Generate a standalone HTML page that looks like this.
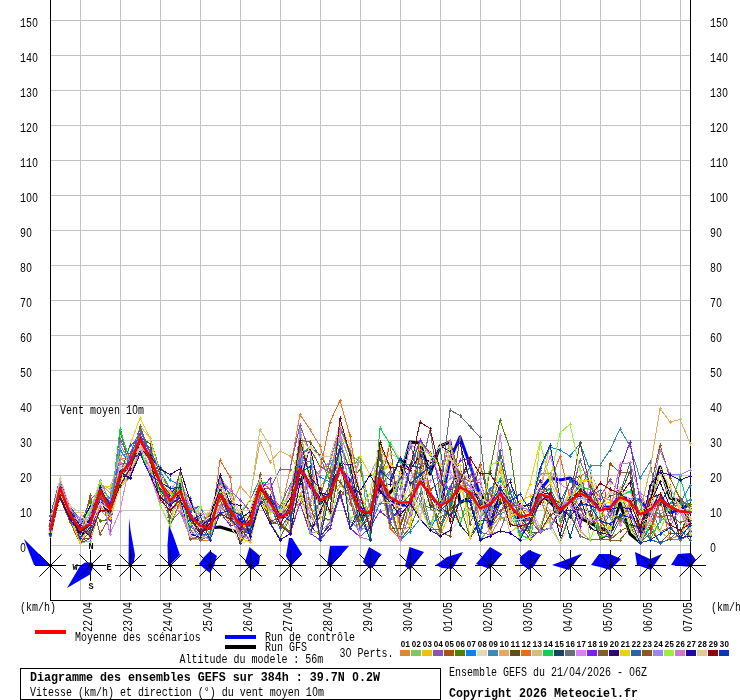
<!DOCTYPE html>
<html><head><meta charset="utf-8"><title>GEFS</title>
<style>html,body{margin:0;padding:0;background:#fff}svg{display:block;will-change:transform}text{font-family:"Liberation Mono",monospace}</style></head>
<body>
<svg width="740" height="700" viewBox="0 0 740 700" font-family="'Liberation Mono', monospace">
<rect width="740" height="700" fill="#fff"/>
<path d="M50 20.5H690M50 55.5H690M50 90.5H690M50 125.5H690M50 160.5H690M50 195.5H690M50 230.5H690M50 265.5H690M50 300.5H690M50 335.5H690M50 370.5H690M50 405.5H690M50 440.5H690M50 475.5H690M50 510.5H690M50 545.5H690M80.5 0V600M120.5 0V600M160.5 0V600M200.5 0V600M240.5 0V600M280.5 0V600M320.5 0V600M360.5 0V600M400.5 0V600M440.5 0V600M480.5 0V600M520.5 0V600M560.5 0V600M600.5 0V600M640.5 0V600M680.5 0V600" stroke="#c3c3c3" stroke-width="1" fill="none" shape-rendering="crispEdges"/>
<path d="M50.5 0V600.5M690.5 0V600.5M50 600.5H691" stroke="#000" stroke-width="1" fill="none" shape-rendering="crispEdges"/>
<g fill="none" stroke-linejoin="round">
<path d="M50 534.8L60 489.1L70 514.4L80 535.7L90 528.9L100 495.1L110 514.6L120 474.8L130 465.1L140 444.7L150 458.3L160 484.0L170 503.6L180 494.1L190 517.4L200 530.6L210 528.0L220 527.0L230 530.0L240 533.0L250 528.2L260 484.1L270 501.0L280 517.9L290 514.9L300 474.8L310 482.3L320 503.4L330 494.4L340 467.3L350 487.7L360 514.8L370 515.6L380 484.0L390 493.0L400 479.0L410 442.0L420 443.0L430 474.0L440 446.0L450 442.0L460 503.0L470 497.0L480 493.0L490 510.0L500 501.2L510 507.8L520 519.9L530 518.8L540 493.9L550 501.7L560 513.1L570 499.5L580 518.0L590 523.0L600 528.0L610 532.0L620 503.0L630 534.0L640 542.0L650 503.0L660 467.0L670 498.0L680 501.0L690 522.0" stroke="#000" stroke-width="3"/>
<path d="M50 527.1L60 487.6L70 509.0L80 529.8L90 520.6L100 491.3L110 504.5L120 475.1L130 462.7L140 439.6L150 457.8L160 482.8L170 496.5L180 483.3L190 516.3L200 522.8L210 527.4L220 495.5L230 504.7L240 521.7L250 522.2L260 482.4L270 503.9L280 517.4L290 509.0L300 465.3L310 486.4L320 498.5L330 496.8L340 468.8L350 480.8L360 507.4L370 513.0L380 479.5L390 499.7L400 505.3L410 505.1L420 480.5L430 493.6L440 508.3L450 460.0L460 437.0L470 465.0L480 495.0L490 528.0L500 500.0L510 510.0L520 516.0L530 520.0L540 490.0L550 478.0L560 480.0L570 478.0L580 486.0L590 500.0L600 507.1L610 507.2L620 496.2L630 500.0L640 500.0L650 513.1L660 494.7L670 512.7L680 509.9L690 504.0" stroke="#0000ff" stroke-width="3"/>
<path d="M50 531.5L60 490.9L70 519.9L80 536.0L90 514.9L100 484.2L110 492.6L120 459.4L130 456.5L140 436.1L150 473.8L160 481.1L170 494.8L180 486.2L190 536.2L200 540.0L210 540.0L220 512.4L230 513.6L240 526.5L250 519.3L260 490.8L270 502.0L280 514.9L290 470.0L300 414.5L310 429.5L320 446.0L330 480.0L340 480.5L350 504.2L360 517.7L370 505.3L380 446.0L390 468.0L400 528.8L410 527.6L420 466.2L430 505.3L440 505.7L450 488.4L460 519.0L470 508.7L480 491.3L490 536.0L500 518.6L510 515.6L520 533.1L530 514.7L540 496.1L550 527.1L560 509.4L570 495.4L580 476.4L590 470.2L600 495.4L610 500.2L620 525.0L630 500.7L640 524.6L650 523.8L660 543.0L670 539.0L680 535.4L690 506.6M48.5 531.5h3M50 529.5v4M58.5 490.9h3M60 488.9v4M68.5 519.9h3M70 517.9v4M78.5 536.0h3M80 534.0v4M88.5 514.9h3M90 512.9v4M98.5 484.2h3M100 482.2v4M108.5 492.6h3M110 490.6v4M118.5 459.4h3M120 457.4v4M128.5 456.5h3M130 454.5v4M138.5 436.1h3M140 434.1v4M148.5 473.8h3M150 471.8v4M158.5 481.1h3M160 479.1v4M168.5 494.8h3M170 492.8v4M178.5 486.2h3M180 484.2v4M188.5 536.2h3M190 534.2v4M198.5 540.0h3M200 538.0v4M208.5 540.0h3M210 538.0v4M218.5 512.4h3M220 510.4v4M228.5 513.6h3M230 511.6v4M238.5 526.5h3M240 524.5v4M248.5 519.3h3M250 517.3v4M258.5 490.8h3M260 488.8v4M268.5 502.0h3M270 500.0v4M278.5 514.9h3M280 512.9v4M288.5 470.0h3M290 468.0v4M298.5 414.5h3M300 412.5v4M308.5 429.5h3M310 427.5v4M318.5 446.0h3M320 444.0v4M328.5 480.0h3M330 478.0v4M338.5 480.5h3M340 478.5v4M348.5 504.2h3M350 502.2v4M358.5 517.7h3M360 515.7v4M368.5 505.3h3M370 503.3v4M378.5 446.0h3M380 444.0v4M388.5 468.0h3M390 466.0v4M398.5 528.8h3M400 526.8v4M408.5 527.6h3M410 525.6v4M418.5 466.2h3M420 464.2v4M428.5 505.3h3M430 503.3v4M438.5 505.7h3M440 503.7v4M448.5 488.4h3M450 486.4v4M458.5 519.0h3M460 517.0v4M468.5 508.7h3M470 506.7v4M478.5 491.3h3M480 489.3v4M488.5 536.0h3M490 534.0v4M498.5 518.6h3M500 516.6v4M508.5 515.6h3M510 513.6v4M518.5 533.1h3M520 531.1v4M528.5 514.7h3M530 512.7v4M538.5 496.1h3M540 494.1v4M548.5 527.1h3M550 525.1v4M558.5 509.4h3M560 507.4v4M568.5 495.4h3M570 493.4v4M578.5 476.4h3M580 474.4v4M588.5 470.2h3M590 468.2v4M598.5 495.4h3M600 493.4v4M608.5 500.2h3M610 498.2v4M618.5 525.0h3M620 523.0v4M628.5 500.7h3M630 498.7v4M638.5 524.6h3M640 522.6v4M648.5 523.8h3M650 521.8v4M658.5 543.0h3M660 541.0v4M668.5 539.0h3M670 537.0v4M678.5 535.4h3M680 533.4v4M688.5 506.6h3M690 504.6v4" stroke="#E8813A" stroke-width="1" shape-rendering="crispEdges"/>
<path d="M50 533.3L60 483.9L70 511.3L80 543.0L90 541.0L100 510.0L110 520.0L120 487.0L130 466.0L140 434.8L150 456.3L160 482.0L170 498.9L180 481.4L190 506.7L200 519.1L210 523.8L220 515.0L230 508.0L240 514.3L250 516.8L260 503.0L270 523.0L280 521.2L290 534.0L300 428.0L310 482.6L320 539.7L330 482.9L340 433.0L350 462.0L360 511.2L370 506.7L380 478.4L390 473.6L400 515.9L410 525.4L420 475.0L430 496.3L440 529.1L450 496.8L460 471.6L470 497.2L480 540.0L490 528.5L500 516.8L510 523.1L520 512.3L530 530.2L540 489.4L550 522.9L560 543.0L570 511.4L580 486.6L590 489.7L600 507.2L610 507.3L620 499.8L630 499.6L640 520.5L650 512.9L660 497.6L670 510.3L680 509.2L690 509.0M48.5 533.3h3M50 531.3v4M58.5 483.9h3M60 481.9v4M68.5 511.3h3M70 509.3v4M78.5 543.0h3M80 541.0v4M88.5 541.0h3M90 539.0v4M98.5 510.0h3M100 508.0v4M108.5 520.0h3M110 518.0v4M118.5 487.0h3M120 485.0v4M128.5 466.0h3M130 464.0v4M138.5 434.8h3M140 432.8v4M148.5 456.3h3M150 454.3v4M158.5 482.0h3M160 480.0v4M168.5 498.9h3M170 496.9v4M178.5 481.4h3M180 479.4v4M188.5 506.7h3M190 504.7v4M198.5 519.1h3M200 517.1v4M208.5 523.8h3M210 521.8v4M218.5 515.0h3M220 513.0v4M228.5 508.0h3M230 506.0v4M238.5 514.3h3M240 512.3v4M248.5 516.8h3M250 514.8v4M258.5 503.0h3M260 501.0v4M268.5 523.0h3M270 521.0v4M278.5 521.2h3M280 519.2v4M288.5 534.0h3M290 532.0v4M298.5 428.0h3M300 426.0v4M308.5 482.6h3M310 480.6v4M318.5 539.7h3M320 537.7v4M328.5 482.9h3M330 480.9v4M338.5 433.0h3M340 431.0v4M348.5 462.0h3M350 460.0v4M358.5 511.2h3M360 509.2v4M368.5 506.7h3M370 504.7v4M378.5 478.4h3M380 476.4v4M388.5 473.6h3M390 471.6v4M398.5 515.9h3M400 513.9v4M408.5 525.4h3M410 523.4v4M418.5 475.0h3M420 473.0v4M428.5 496.3h3M430 494.3v4M438.5 529.1h3M440 527.1v4M448.5 496.8h3M450 494.8v4M458.5 471.6h3M460 469.6v4M468.5 497.2h3M470 495.2v4M478.5 540.0h3M480 538.0v4M488.5 528.5h3M490 526.5v4M498.5 516.8h3M500 514.8v4M508.5 523.1h3M510 521.1v4M518.5 512.3h3M520 510.3v4M528.5 530.2h3M530 528.2v4M538.5 489.4h3M540 487.4v4M548.5 522.9h3M550 520.9v4M558.5 543.0h3M560 541.0v4M568.5 511.4h3M570 509.4v4M578.5 486.6h3M580 484.6v4M588.5 489.7h3M590 487.7v4M598.5 507.2h3M600 505.2v4M608.5 507.3h3M610 505.3v4M618.5 499.8h3M620 497.8v4M628.5 499.6h3M630 497.6v4M638.5 520.5h3M640 518.5v4M648.5 512.9h3M650 510.9v4M658.5 497.6h3M660 495.6v4M668.5 510.3h3M670 508.3v4M678.5 509.2h3M680 507.2v4M688.5 509.0h3M690 507.0v4" stroke="#82C46C" stroke-width="1" shape-rendering="crispEdges"/>
<path d="M50 530.2L60 490.5L70 515.1L80 522.7L90 524.2L100 487.8L110 486.0L120 487.0L130 478.0L140 445.6L150 457.5L160 480.8L170 506.5L180 488.2L190 512.1L200 528.9L210 511.0L220 480.9L230 510.7L240 525.6L250 527.7L260 488.3L270 523.0L280 540.0L290 509.8L300 493.6L310 503.3L320 487.0L330 472.8L340 428.0L350 455.0L360 523.8L370 525.6L380 474.2L390 464.5L400 540.0L410 500.5L420 516.5L430 494.4L440 535.5L450 513.1L460 477.4L470 491.4L480 506.3L490 494.0L500 489.7L510 504.8L520 500.8L530 496.0L540 490.7L550 445.0L560 509.4L570 492.3L580 492.9L590 497.4L600 503.8L610 502.6L620 491.4L630 521.7L640 543.0L650 516.9L660 531.8L670 539.0L680 540.0L690 511.2M48.5 530.2h3M50 528.2v4M58.5 490.5h3M60 488.5v4M68.5 515.1h3M70 513.1v4M78.5 522.7h3M80 520.7v4M88.5 524.2h3M90 522.2v4M98.5 487.8h3M100 485.8v4M108.5 486.0h3M110 484.0v4M118.5 487.0h3M120 485.0v4M128.5 478.0h3M130 476.0v4M138.5 445.6h3M140 443.6v4M148.5 457.5h3M150 455.5v4M158.5 480.8h3M160 478.8v4M168.5 506.5h3M170 504.5v4M178.5 488.2h3M180 486.2v4M188.5 512.1h3M190 510.1v4M198.5 528.9h3M200 526.9v4M208.5 511.0h3M210 509.0v4M218.5 480.9h3M220 478.9v4M228.5 510.7h3M230 508.7v4M238.5 525.6h3M240 523.6v4M248.5 527.7h3M250 525.7v4M258.5 488.3h3M260 486.3v4M268.5 523.0h3M270 521.0v4M278.5 540.0h3M280 538.0v4M288.5 509.8h3M290 507.8v4M298.5 493.6h3M300 491.6v4M308.5 503.3h3M310 501.3v4M318.5 487.0h3M320 485.0v4M328.5 472.8h3M330 470.8v4M338.5 428.0h3M340 426.0v4M348.5 455.0h3M350 453.0v4M358.5 523.8h3M360 521.8v4M368.5 525.6h3M370 523.6v4M378.5 474.2h3M380 472.2v4M388.5 464.5h3M390 462.5v4M398.5 540.0h3M400 538.0v4M408.5 500.5h3M410 498.5v4M418.5 516.5h3M420 514.5v4M428.5 494.4h3M430 492.4v4M438.5 535.5h3M440 533.5v4M448.5 513.1h3M450 511.1v4M458.5 477.4h3M460 475.4v4M468.5 491.4h3M470 489.4v4M478.5 506.3h3M480 504.3v4M488.5 494.0h3M490 492.0v4M498.5 489.7h3M500 487.7v4M508.5 504.8h3M510 502.8v4M518.5 500.8h3M520 498.8v4M528.5 496.0h3M530 494.0v4M538.5 490.7h3M540 488.7v4M548.5 445.0h3M550 443.0v4M558.5 509.4h3M560 507.4v4M568.5 492.3h3M570 490.3v4M578.5 492.9h3M580 490.9v4M588.5 497.4h3M590 495.4v4M598.5 503.8h3M600 501.8v4M608.5 502.6h3M610 500.6v4M618.5 491.4h3M620 489.4v4M628.5 521.7h3M630 519.7v4M638.5 543.0h3M640 541.0v4M648.5 516.9h3M650 514.9v4M658.5 531.8h3M660 529.8v4M668.5 539.0h3M670 537.0v4M678.5 540.0h3M680 538.0v4M688.5 511.2h3M690 509.2v4" stroke="#F0C010" stroke-width="1" shape-rendering="crispEdges"/>
<path d="M50 532.3L60 488.7L70 519.5L80 526.4L90 500.0L100 489.8L110 534.0L120 440.0L130 456.3L140 453.5L150 449.5L160 479.5L170 505.5L180 488.7L190 509.6L200 506.0L210 529.1L220 481.9L230 490.0L240 500.0L250 510.7L260 487.2L270 489.2L280 469.0L290 469.0L300 425.0L310 452.0L320 540.0L330 520.8L340 497.0L350 488.4L360 500.5L370 518.4L380 479.3L390 471.7L400 489.5L410 446.6L420 464.4L430 460.8L440 446.0L450 441.0L460 480.7L470 475.9L480 532.2L490 534.7L500 531.0L510 505.0L520 533.1L530 520.7L540 500.3L550 497.5L560 520.3L570 501.5L580 460.1L590 487.5L600 497.7L610 479.7L620 493.3L630 516.0L640 529.4L650 501.3L660 531.8L670 527.5L680 506.8L690 499.1M48.5 532.3h3M50 530.3v4M58.5 488.7h3M60 486.7v4M68.5 519.5h3M70 517.5v4M78.5 526.4h3M80 524.4v4M88.5 500.0h3M90 498.0v4M98.5 489.8h3M100 487.8v4M108.5 534.0h3M110 532.0v4M118.5 440.0h3M120 438.0v4M128.5 456.3h3M130 454.3v4M138.5 453.5h3M140 451.5v4M148.5 449.5h3M150 447.5v4M158.5 479.5h3M160 477.5v4M168.5 505.5h3M170 503.5v4M178.5 488.7h3M180 486.7v4M188.5 509.6h3M190 507.6v4M198.5 506.0h3M200 504.0v4M208.5 529.1h3M210 527.1v4M218.5 481.9h3M220 479.9v4M228.5 490.0h3M230 488.0v4M238.5 500.0h3M240 498.0v4M248.5 510.7h3M250 508.7v4M258.5 487.2h3M260 485.2v4M268.5 489.2h3M270 487.2v4M278.5 469.0h3M280 467.0v4M288.5 469.0h3M290 467.0v4M298.5 425.0h3M300 423.0v4M308.5 452.0h3M310 450.0v4M318.5 540.0h3M320 538.0v4M328.5 520.8h3M330 518.8v4M338.5 497.0h3M340 495.0v4M348.5 488.4h3M350 486.4v4M358.5 500.5h3M360 498.5v4M368.5 518.4h3M370 516.4v4M378.5 479.3h3M380 477.3v4M388.5 471.7h3M390 469.7v4M398.5 489.5h3M400 487.5v4M408.5 446.6h3M410 444.6v4M418.5 464.4h3M420 462.4v4M428.5 460.8h3M430 458.8v4M438.5 446.0h3M440 444.0v4M448.5 441.0h3M450 439.0v4M458.5 480.7h3M460 478.7v4M468.5 475.9h3M470 473.9v4M478.5 532.2h3M480 530.2v4M488.5 534.7h3M490 532.7v4M498.5 531.0h3M500 529.0v4M508.5 505.0h3M510 503.0v4M518.5 533.1h3M520 531.1v4M528.5 520.7h3M530 518.7v4M538.5 500.3h3M540 498.3v4M548.5 497.5h3M550 495.5v4M558.5 520.3h3M560 518.3v4M568.5 501.5h3M570 499.5v4M578.5 460.1h3M580 458.1v4M588.5 487.5h3M590 485.5v4M598.5 497.7h3M600 495.7v4M608.5 479.7h3M610 477.7v4M618.5 493.3h3M620 491.3v4M628.5 516.0h3M630 514.0v4M638.5 529.4h3M640 527.4v4M648.5 501.3h3M650 499.3v4M658.5 531.8h3M660 529.8v4M668.5 527.5h3M670 525.5v4M678.5 506.8h3M680 504.8v4M688.5 499.1h3M690 497.1v4" stroke="#9050B8" stroke-width="1" shape-rendering="crispEdges"/>
<path d="M50 528.9L60 494.7L70 522.0L80 542.6L90 495.0L100 534.0L110 516.5L120 484.2L130 478.0L140 448.9L150 475.0L160 487.2L170 526.0L180 501.3L190 530.2L200 540.0L210 531.0L220 499.3L230 525.0L240 543.0L250 530.3L260 493.1L270 497.0L280 510.3L290 495.9L300 456.0L310 448.2L320 466.6L330 472.0L340 496.7L350 482.3L360 469.2L370 506.4L380 485.2L390 443.1L400 524.3L410 499.8L420 440.0L430 490.2L440 481.6L450 441.0L460 477.0L470 481.3L480 482.3L490 509.6L500 498.4L510 503.6L520 509.0L530 512.3L540 494.2L550 516.5L560 526.3L570 497.3L580 490.5L590 515.6L600 530.8L610 463.6L620 472.6L630 472.3L640 543.0L650 490.0L660 445.0L670 478.0L680 498.6L690 508.2M48.5 528.9h3M50 526.9v4M58.5 494.7h3M60 492.7v4M68.5 522.0h3M70 520.0v4M78.5 542.6h3M80 540.6v4M88.5 495.0h3M90 493.0v4M98.5 534.0h3M100 532.0v4M108.5 516.5h3M110 514.5v4M118.5 484.2h3M120 482.2v4M128.5 478.0h3M130 476.0v4M138.5 448.9h3M140 446.9v4M148.5 475.0h3M150 473.0v4M158.5 487.2h3M160 485.2v4M168.5 526.0h3M170 524.0v4M178.5 501.3h3M180 499.3v4M188.5 530.2h3M190 528.2v4M198.5 540.0h3M200 538.0v4M208.5 531.0h3M210 529.0v4M218.5 499.3h3M220 497.3v4M228.5 525.0h3M230 523.0v4M238.5 543.0h3M240 541.0v4M248.5 530.3h3M250 528.3v4M258.5 493.1h3M260 491.1v4M268.5 497.0h3M270 495.0v4M278.5 510.3h3M280 508.3v4M288.5 495.9h3M290 493.9v4M298.5 456.0h3M300 454.0v4M308.5 448.2h3M310 446.2v4M318.5 466.6h3M320 464.6v4M328.5 472.0h3M330 470.0v4M338.5 496.7h3M340 494.7v4M348.5 482.3h3M350 480.3v4M358.5 469.2h3M360 467.2v4M368.5 506.4h3M370 504.4v4M378.5 485.2h3M380 483.2v4M388.5 443.1h3M390 441.1v4M398.5 524.3h3M400 522.3v4M408.5 499.8h3M410 497.8v4M418.5 440.0h3M420 438.0v4M428.5 490.2h3M430 488.2v4M438.5 481.6h3M440 479.6v4M448.5 441.0h3M450 439.0v4M458.5 477.0h3M460 475.0v4M468.5 481.3h3M470 479.3v4M478.5 482.3h3M480 480.3v4M488.5 509.6h3M490 507.6v4M498.5 498.4h3M500 496.4v4M508.5 503.6h3M510 501.6v4M518.5 509.0h3M520 507.0v4M528.5 512.3h3M530 510.3v4M538.5 494.2h3M540 492.2v4M548.5 516.5h3M550 514.5v4M558.5 526.3h3M560 524.3v4M568.5 497.3h3M570 495.3v4M578.5 490.5h3M580 488.5v4M588.5 515.6h3M590 513.6v4M598.5 530.8h3M600 528.8v4M608.5 463.6h3M610 461.6v4M618.5 472.6h3M620 470.6v4M628.5 472.3h3M630 470.3v4M638.5 543.0h3M640 541.0v4M648.5 490.0h3M650 488.0v4M658.5 445.0h3M660 443.0v4M668.5 478.0h3M670 476.0v4M678.5 498.6h3M680 496.6v4M688.5 508.2h3M690 506.2v4" stroke="#B05010" stroke-width="1" shape-rendering="crispEdges"/>
<path d="M50 526.3L60 486.9L70 518.8L80 524.8L90 501.8L100 521.0L110 519.2L120 431.0L130 467.9L140 448.3L150 475.0L160 474.6L170 488.4L180 504.7L190 539.0L200 522.0L210 521.5L220 475.0L230 496.6L240 531.6L250 528.2L260 503.0L270 523.0L280 538.2L290 518.2L300 496.7L310 516.7L320 509.4L330 497.8L340 462.9L350 487.1L360 522.1L370 510.7L380 484.1L390 522.3L400 539.5L410 527.9L420 503.6L430 507.9L440 517.7L450 510.4L460 503.4L470 538.0L480 524.1L490 470.0L500 420.0L510 449.0L520 518.2L530 535.6L540 532.0L550 528.0L560 543.0L570 513.9L580 536.0L590 540.0L600 539.0L610 510.4L620 518.8L630 528.0L640 543.0L650 524.1L660 503.9L670 511.8L680 502.5L690 504.8M48.5 526.3h3M50 524.3v4M58.5 486.9h3M60 484.9v4M68.5 518.8h3M70 516.8v4M78.5 524.8h3M80 522.8v4M88.5 501.8h3M90 499.8v4M98.5 521.0h3M100 519.0v4M108.5 519.2h3M110 517.2v4M118.5 431.0h3M120 429.0v4M128.5 467.9h3M130 465.9v4M138.5 448.3h3M140 446.3v4M148.5 475.0h3M150 473.0v4M158.5 474.6h3M160 472.6v4M168.5 488.4h3M170 486.4v4M178.5 504.7h3M180 502.7v4M188.5 539.0h3M190 537.0v4M198.5 522.0h3M200 520.0v4M208.5 521.5h3M210 519.5v4M218.5 475.0h3M220 473.0v4M228.5 496.6h3M230 494.6v4M238.5 531.6h3M240 529.6v4M248.5 528.2h3M250 526.2v4M258.5 503.0h3M260 501.0v4M268.5 523.0h3M270 521.0v4M278.5 538.2h3M280 536.2v4M288.5 518.2h3M290 516.2v4M298.5 496.7h3M300 494.7v4M308.5 516.7h3M310 514.7v4M318.5 509.4h3M320 507.4v4M328.5 497.8h3M330 495.8v4M338.5 462.9h3M340 460.9v4M348.5 487.1h3M350 485.1v4M358.5 522.1h3M360 520.1v4M368.5 510.7h3M370 508.7v4M378.5 484.1h3M380 482.1v4M388.5 522.3h3M390 520.3v4M398.5 539.5h3M400 537.5v4M408.5 527.9h3M410 525.9v4M418.5 503.6h3M420 501.6v4M428.5 507.9h3M430 505.9v4M438.5 517.7h3M440 515.7v4M448.5 510.4h3M450 508.4v4M458.5 503.4h3M460 501.4v4M468.5 538.0h3M470 536.0v4M478.5 524.1h3M480 522.1v4M488.5 470.0h3M490 468.0v4M498.5 420.0h3M500 418.0v4M508.5 449.0h3M510 447.0v4M518.5 518.2h3M520 516.2v4M528.5 535.6h3M530 533.6v4M538.5 532.0h3M540 530.0v4M548.5 528.0h3M550 526.0v4M558.5 543.0h3M560 541.0v4M568.5 513.9h3M570 511.9v4M578.5 536.0h3M580 534.0v4M588.5 540.0h3M590 538.0v4M598.5 539.0h3M600 537.0v4M608.5 510.4h3M610 508.4v4M618.5 518.8h3M620 516.8v4M628.5 528.0h3M630 526.0v4M638.5 543.0h3M640 541.0v4M648.5 524.1h3M650 522.1v4M658.5 503.9h3M660 501.9v4M668.5 511.8h3M670 509.8v4M678.5 502.5h3M680 500.5v4M688.5 504.8h3M690 502.8v4" stroke="#508010" stroke-width="1" shape-rendering="crispEdges"/>
<path d="M50 516.8L60 478.8L70 506.3L80 532.0L90 527.0L100 485.5L110 509.3L120 455.5L130 453.4L140 429.6L150 454.2L160 467.0L170 480.0L180 485.2L190 511.7L200 506.0L210 520.5L220 481.3L230 493.5L240 515.7L250 533.8L260 487.8L270 499.9L280 508.2L290 492.8L300 459.7L310 461.8L320 477.2L330 482.1L340 460.5L350 488.7L360 493.4L370 526.2L380 502.5L390 505.9L400 540.0L410 531.6L420 519.0L430 530.0L440 510.9L450 487.5L460 486.4L470 497.4L480 538.7L490 488.5L500 480.8L510 479.5L520 519.7L530 518.8L540 470.0L550 447.0L560 450.0L570 456.0L580 443.5L590 470.0L600 539.0L610 540.0L620 540.0L630 528.0L640 543.0L650 527.9L660 503.8L670 503.6L680 503.5L690 485.7M48.5 516.8h3M50 514.8v4M58.5 478.8h3M60 476.8v4M68.5 506.3h3M70 504.3v4M78.5 532.0h3M80 530.0v4M88.5 527.0h3M90 525.0v4M98.5 485.5h3M100 483.5v4M108.5 509.3h3M110 507.3v4M118.5 455.5h3M120 453.5v4M128.5 453.4h3M130 451.4v4M138.5 429.6h3M140 427.6v4M148.5 454.2h3M150 452.2v4M158.5 467.0h3M160 465.0v4M168.5 480.0h3M170 478.0v4M178.5 485.2h3M180 483.2v4M188.5 511.7h3M190 509.7v4M198.5 506.0h3M200 504.0v4M208.5 520.5h3M210 518.5v4M218.5 481.3h3M220 479.3v4M228.5 493.5h3M230 491.5v4M238.5 515.7h3M240 513.7v4M248.5 533.8h3M250 531.8v4M258.5 487.8h3M260 485.8v4M268.5 499.9h3M270 497.9v4M278.5 508.2h3M280 506.2v4M288.5 492.8h3M290 490.8v4M298.5 459.7h3M300 457.7v4M308.5 461.8h3M310 459.8v4M318.5 477.2h3M320 475.2v4M328.5 482.1h3M330 480.1v4M338.5 460.5h3M340 458.5v4M348.5 488.7h3M350 486.7v4M358.5 493.4h3M360 491.4v4M368.5 526.2h3M370 524.2v4M378.5 502.5h3M380 500.5v4M388.5 505.9h3M390 503.9v4M398.5 540.0h3M400 538.0v4M408.5 531.6h3M410 529.6v4M418.5 519.0h3M420 517.0v4M428.5 530.0h3M430 528.0v4M438.5 510.9h3M440 508.9v4M448.5 487.5h3M450 485.5v4M458.5 486.4h3M460 484.4v4M468.5 497.4h3M470 495.4v4M478.5 538.7h3M480 536.7v4M488.5 488.5h3M490 486.5v4M498.5 480.8h3M500 478.8v4M508.5 479.5h3M510 477.5v4M518.5 519.7h3M520 517.7v4M528.5 518.8h3M530 516.8v4M538.5 470.0h3M540 468.0v4M548.5 447.0h3M550 445.0v4M558.5 450.0h3M560 448.0v4M568.5 456.0h3M570 454.0v4M578.5 443.5h3M580 441.5v4M588.5 470.0h3M590 468.0v4M598.5 539.0h3M600 537.0v4M608.5 540.0h3M610 538.0v4M618.5 540.0h3M620 538.0v4M628.5 528.0h3M630 526.0v4M638.5 543.0h3M640 541.0v4M648.5 527.9h3M650 525.9v4M658.5 503.8h3M660 501.8v4M668.5 503.6h3M670 501.6v4M678.5 503.5h3M680 501.5v4M688.5 485.7h3M690 483.7v4" stroke="#1080F0" stroke-width="1" shape-rendering="crispEdges"/>
<path d="M50 532.8L60 498.0L70 522.0L80 540.5L90 532.9L100 492.0L110 520.0L120 487.0L130 475.9L140 449.3L150 469.4L160 493.8L170 522.9L180 493.3L190 516.1L200 528.7L210 536.6L220 506.4L230 525.0L240 543.0L250 540.9L260 503.0L270 517.7L280 526.7L290 534.0L300 498.8L310 521.3L320 508.9L330 491.5L340 471.3L350 518.4L360 526.5L370 525.9L380 476.2L390 441.0L400 459.0L410 460.0L420 518.6L430 530.0L440 536.0L450 531.6L460 519.8L470 514.6L480 509.9L490 518.6L500 464.7L510 503.9L520 509.3L530 513.3L540 482.1L550 528.0L560 543.0L570 524.1L580 495.1L590 469.0L600 499.9L610 483.5L620 487.5L630 482.7L640 507.8L650 511.0L660 497.6L670 532.2L680 509.6L690 532.0M48.5 532.8h3M50 530.8v4M58.5 498.0h3M60 496.0v4M68.5 522.0h3M70 520.0v4M78.5 540.5h3M80 538.5v4M88.5 532.9h3M90 530.9v4M98.5 492.0h3M100 490.0v4M108.5 520.0h3M110 518.0v4M118.5 487.0h3M120 485.0v4M128.5 475.9h3M130 473.9v4M138.5 449.3h3M140 447.3v4M148.5 469.4h3M150 467.4v4M158.5 493.8h3M160 491.8v4M168.5 522.9h3M170 520.9v4M178.5 493.3h3M180 491.3v4M188.5 516.1h3M190 514.1v4M198.5 528.7h3M200 526.7v4M208.5 536.6h3M210 534.6v4M218.5 506.4h3M220 504.4v4M228.5 525.0h3M230 523.0v4M238.5 543.0h3M240 541.0v4M248.5 540.9h3M250 538.9v4M258.5 503.0h3M260 501.0v4M268.5 517.7h3M270 515.7v4M278.5 526.7h3M280 524.7v4M288.5 534.0h3M290 532.0v4M298.5 498.8h3M300 496.8v4M308.5 521.3h3M310 519.3v4M318.5 508.9h3M320 506.9v4M328.5 491.5h3M330 489.5v4M338.5 471.3h3M340 469.3v4M348.5 518.4h3M350 516.4v4M358.5 526.5h3M360 524.5v4M368.5 525.9h3M370 523.9v4M378.5 476.2h3M380 474.2v4M388.5 441.0h3M390 439.0v4M398.5 459.0h3M400 457.0v4M408.5 460.0h3M410 458.0v4M418.5 518.6h3M420 516.6v4M428.5 530.0h3M430 528.0v4M438.5 536.0h3M440 534.0v4M448.5 531.6h3M450 529.6v4M458.5 519.8h3M460 517.8v4M468.5 514.6h3M470 512.6v4M478.5 509.9h3M480 507.9v4M488.5 518.6h3M490 516.6v4M498.5 464.7h3M500 462.7v4M508.5 503.9h3M510 501.9v4M518.5 509.3h3M520 507.3v4M528.5 513.3h3M530 511.3v4M538.5 482.1h3M540 480.1v4M548.5 528.0h3M550 526.0v4M558.5 543.0h3M560 541.0v4M568.5 524.1h3M570 522.1v4M578.5 495.1h3M580 493.1v4M588.5 469.0h3M590 467.0v4M598.5 499.9h3M600 497.9v4M608.5 483.5h3M610 481.5v4M618.5 487.5h3M620 485.5v4M628.5 482.7h3M630 480.7v4M638.5 507.8h3M640 505.8v4M648.5 511.0h3M650 509.0v4M658.5 497.6h3M660 495.6v4M668.5 532.2h3M670 530.2v4M678.5 509.6h3M680 507.6v4M688.5 532.0h3M690 530.0v4" stroke="#E8D8B0" stroke-width="1" shape-rendering="crispEdges"/>
<path d="M50 529.0L60 486.5L70 507.6L80 521.5L90 526.1L100 487.5L110 498.0L120 450.0L130 463.3L140 426.0L150 438.0L160 470.5L170 488.6L180 489.3L190 498.2L200 523.1L210 519.7L220 492.8L230 514.5L240 515.3L250 500.0L260 479.0L270 503.0L280 510.2L290 503.7L300 457.2L310 446.0L320 457.0L330 481.5L340 425.0L350 454.3L360 462.4L370 507.9L380 473.6L390 525.2L400 471.1L410 442.0L420 482.4L430 524.4L440 536.0L450 486.8L460 488.0L470 492.1L480 509.5L490 504.2L500 514.5L510 508.0L520 536.3L530 521.7L540 492.1L550 488.1L560 507.5L570 515.4L580 492.9L590 466.0L600 465.0L610 450.0L620 429.0L630 446.0L640 478.0L650 462.0L660 515.1L670 505.9L680 505.0L690 500.1M48.5 529.0h3M50 527.0v4M58.5 486.5h3M60 484.5v4M68.5 507.6h3M70 505.6v4M78.5 521.5h3M80 519.5v4M88.5 526.1h3M90 524.1v4M98.5 487.5h3M100 485.5v4M108.5 498.0h3M110 496.0v4M118.5 450.0h3M120 448.0v4M128.5 463.3h3M130 461.3v4M138.5 426.0h3M140 424.0v4M148.5 438.0h3M150 436.0v4M158.5 470.5h3M160 468.5v4M168.5 488.6h3M170 486.6v4M178.5 489.3h3M180 487.3v4M188.5 498.2h3M190 496.2v4M198.5 523.1h3M200 521.1v4M208.5 519.7h3M210 517.7v4M218.5 492.8h3M220 490.8v4M228.5 514.5h3M230 512.5v4M238.5 515.3h3M240 513.3v4M248.5 500.0h3M250 498.0v4M258.5 479.0h3M260 477.0v4M268.5 503.0h3M270 501.0v4M278.5 510.2h3M280 508.2v4M288.5 503.7h3M290 501.7v4M298.5 457.2h3M300 455.2v4M308.5 446.0h3M310 444.0v4M318.5 457.0h3M320 455.0v4M328.5 481.5h3M330 479.5v4M338.5 425.0h3M340 423.0v4M348.5 454.3h3M350 452.3v4M358.5 462.4h3M360 460.4v4M368.5 507.9h3M370 505.9v4M378.5 473.6h3M380 471.6v4M388.5 525.2h3M390 523.2v4M398.5 471.1h3M400 469.1v4M408.5 442.0h3M410 440.0v4M418.5 482.4h3M420 480.4v4M428.5 524.4h3M430 522.4v4M438.5 536.0h3M440 534.0v4M448.5 486.8h3M450 484.8v4M458.5 488.0h3M460 486.0v4M468.5 492.1h3M470 490.1v4M478.5 509.5h3M480 507.5v4M488.5 504.2h3M490 502.2v4M498.5 514.5h3M500 512.5v4M508.5 508.0h3M510 506.0v4M518.5 536.3h3M520 534.3v4M528.5 521.7h3M530 519.7v4M538.5 492.1h3M540 490.1v4M548.5 488.1h3M550 486.1v4M558.5 507.5h3M560 505.5v4M568.5 515.4h3M570 513.4v4M578.5 492.9h3M580 490.9v4M588.5 466.0h3M590 464.0v4M598.5 465.0h3M600 463.0v4M608.5 450.0h3M610 448.0v4M618.5 429.0h3M620 427.0v4M628.5 446.0h3M630 444.0v4M638.5 478.0h3M640 476.0v4M648.5 462.0h3M650 460.0v4M658.5 515.1h3M660 513.1v4M668.5 505.9h3M670 503.9v4M678.5 505.0h3M680 503.0v4M688.5 500.1h3M690 498.1v4" stroke="#3888B8" stroke-width="1" shape-rendering="crispEdges"/>
<path d="M50 528.7L60 478.0L70 518.1L80 538.7L90 529.3L100 493.3L110 507.9L120 476.8L130 463.3L140 440.4L150 452.8L160 505.0L170 526.0L180 504.8L190 539.0L200 540.0L210 531.9L220 507.8L230 510.7L240 486.0L250 497.0L260 442.0L270 462.0L280 451.0L290 456.0L300 471.4L310 508.1L320 516.2L330 489.8L340 484.9L350 485.7L360 460.5L370 512.4L380 478.7L390 503.9L400 474.6L410 481.7L420 459.7L430 503.4L440 513.1L450 508.3L460 525.0L470 490.6L480 495.4L490 535.5L500 497.0L510 511.6L520 516.7L530 513.6L540 532.0L550 518.7L560 500.5L570 511.2L580 530.8L590 540.0L600 539.0L610 526.4L620 488.2L630 492.3L640 511.9L650 470.0L660 408.5L670 422.0L680 419.5L690 443.5M48.5 528.7h3M50 526.7v4M58.5 478.0h3M60 476.0v4M68.5 518.1h3M70 516.1v4M78.5 538.7h3M80 536.7v4M88.5 529.3h3M90 527.3v4M98.5 493.3h3M100 491.3v4M108.5 507.9h3M110 505.9v4M118.5 476.8h3M120 474.8v4M128.5 463.3h3M130 461.3v4M138.5 440.4h3M140 438.4v4M148.5 452.8h3M150 450.8v4M158.5 505.0h3M160 503.0v4M168.5 526.0h3M170 524.0v4M178.5 504.8h3M180 502.8v4M188.5 539.0h3M190 537.0v4M198.5 540.0h3M200 538.0v4M208.5 531.9h3M210 529.9v4M218.5 507.8h3M220 505.8v4M228.5 510.7h3M230 508.7v4M238.5 486.0h3M240 484.0v4M248.5 497.0h3M250 495.0v4M258.5 442.0h3M260 440.0v4M268.5 462.0h3M270 460.0v4M278.5 451.0h3M280 449.0v4M288.5 456.0h3M290 454.0v4M298.5 471.4h3M300 469.4v4M308.5 508.1h3M310 506.1v4M318.5 516.2h3M320 514.2v4M328.5 489.8h3M330 487.8v4M338.5 484.9h3M340 482.9v4M348.5 485.7h3M350 483.7v4M358.5 460.5h3M360 458.5v4M368.5 512.4h3M370 510.4v4M378.5 478.7h3M380 476.7v4M388.5 503.9h3M390 501.9v4M398.5 474.6h3M400 472.6v4M408.5 481.7h3M410 479.7v4M418.5 459.7h3M420 457.7v4M428.5 503.4h3M430 501.4v4M438.5 513.1h3M440 511.1v4M448.5 508.3h3M450 506.3v4M458.5 525.0h3M460 523.0v4M468.5 490.6h3M470 488.6v4M478.5 495.4h3M480 493.4v4M488.5 535.5h3M490 533.5v4M498.5 497.0h3M500 495.0v4M508.5 511.6h3M510 509.6v4M518.5 516.7h3M520 514.7v4M528.5 513.6h3M530 511.6v4M538.5 532.0h3M540 530.0v4M548.5 518.7h3M550 516.7v4M558.5 500.5h3M560 498.5v4M568.5 511.2h3M570 509.2v4M578.5 530.8h3M580 528.8v4M588.5 540.0h3M590 538.0v4M598.5 539.0h3M600 537.0v4M608.5 526.4h3M610 524.4v4M618.5 488.2h3M620 486.2v4M628.5 492.3h3M630 490.3v4M638.5 511.9h3M640 509.9v4M648.5 470.0h3M650 468.0v4M658.5 408.5h3M660 406.5v4M668.5 422.0h3M670 420.0v4M678.5 419.5h3M680 417.5v4M688.5 443.5h3M690 441.5v4" stroke="#E8A858" stroke-width="1" shape-rendering="crispEdges"/>
<path d="M50 531.9L60 489.0L70 522.0L80 539.7L90 538.2L100 494.9L110 512.7L120 478.5L130 471.3L140 436.7L150 443.8L160 482.4L170 494.4L180 500.7L190 523.4L200 523.0L210 515.6L220 494.1L230 513.5L240 526.2L250 542.0L260 497.2L270 520.7L280 524.7L290 534.0L300 503.0L310 531.7L320 517.2L330 520.0L340 464.5L350 498.1L360 528.2L370 516.9L380 455.0L390 528.0L400 528.0L410 498.6L420 452.0L430 496.1L440 523.9L450 508.4L460 471.3L470 502.9L480 464.0L490 504.4L500 499.3L510 508.1L520 511.9L530 532.6L540 532.0L550 515.2L560 509.3L570 498.7L580 442.9L590 486.1L600 506.5L610 495.5L620 494.2L630 471.3L640 527.6L650 528.0L660 543.0L670 533.1L680 533.1L690 511.7M48.5 531.9h3M50 529.9v4M58.5 489.0h3M60 487.0v4M68.5 522.0h3M70 520.0v4M78.5 539.7h3M80 537.7v4M88.5 538.2h3M90 536.2v4M98.5 494.9h3M100 492.9v4M108.5 512.7h3M110 510.7v4M118.5 478.5h3M120 476.5v4M128.5 471.3h3M130 469.3v4M138.5 436.7h3M140 434.7v4M148.5 443.8h3M150 441.8v4M158.5 482.4h3M160 480.4v4M168.5 494.4h3M170 492.4v4M178.5 500.7h3M180 498.7v4M188.5 523.4h3M190 521.4v4M198.5 523.0h3M200 521.0v4M208.5 515.6h3M210 513.6v4M218.5 494.1h3M220 492.1v4M228.5 513.5h3M230 511.5v4M238.5 526.2h3M240 524.2v4M248.5 542.0h3M250 540.0v4M258.5 497.2h3M260 495.2v4M268.5 520.7h3M270 518.7v4M278.5 524.7h3M280 522.7v4M288.5 534.0h3M290 532.0v4M298.5 503.0h3M300 501.0v4M308.5 531.7h3M310 529.7v4M318.5 517.2h3M320 515.2v4M328.5 520.0h3M330 518.0v4M338.5 464.5h3M340 462.5v4M348.5 498.1h3M350 496.1v4M358.5 528.2h3M360 526.2v4M368.5 516.9h3M370 514.9v4M378.5 455.0h3M380 453.0v4M388.5 528.0h3M390 526.0v4M398.5 528.0h3M400 526.0v4M408.5 498.6h3M410 496.6v4M418.5 452.0h3M420 450.0v4M428.5 496.1h3M430 494.1v4M438.5 523.9h3M440 521.9v4M448.5 508.4h3M450 506.4v4M458.5 471.3h3M460 469.3v4M468.5 502.9h3M470 500.9v4M478.5 464.0h3M480 462.0v4M488.5 504.4h3M490 502.4v4M498.5 499.3h3M500 497.3v4M508.5 508.1h3M510 506.1v4M518.5 511.9h3M520 509.9v4M528.5 532.6h3M530 530.6v4M538.5 532.0h3M540 530.0v4M548.5 515.2h3M550 513.2v4M558.5 509.3h3M560 507.3v4M568.5 498.7h3M570 496.7v4M578.5 442.9h3M580 440.9v4M588.5 486.1h3M590 484.1v4M598.5 506.5h3M600 504.5v4M608.5 495.5h3M610 493.5v4M618.5 494.2h3M620 492.2v4M628.5 471.3h3M630 469.3v4M638.5 527.6h3M640 525.6v4M648.5 528.0h3M650 526.0v4M658.5 543.0h3M660 541.0v4M668.5 533.1h3M670 531.1v4M678.5 533.1h3M680 531.1v4M688.5 511.7h3M690 509.7v4" stroke="#605020" stroke-width="1" shape-rendering="crispEdges"/>
<path d="M50 529.3L60 491.2L70 519.9L80 540.2L90 524.0L100 490.8L110 509.3L120 476.1L130 457.0L140 434.6L150 457.1L160 477.7L170 500.1L180 507.3L190 508.3L200 518.3L210 533.8L220 460.0L230 477.0L240 540.9L250 513.1L260 481.6L270 488.7L280 513.4L290 511.0L300 503.0L310 481.3L320 470.0L330 422.0L340 400.5L350 436.0L360 494.4L370 516.0L380 483.4L390 528.0L400 539.6L410 504.5L420 455.5L430 492.5L440 509.0L450 455.5L460 485.7L470 485.2L480 465.1L490 494.7L500 470.4L510 507.1L520 516.8L530 516.5L540 494.7L550 484.1L560 456.0L570 498.2L580 505.2L590 497.0L600 529.5L610 508.6L620 494.9L630 504.0L640 512.2L650 538.1L660 499.0L670 539.0L680 539.0L690 535.7M48.5 529.3h3M50 527.3v4M58.5 491.2h3M60 489.2v4M68.5 519.9h3M70 517.9v4M78.5 540.2h3M80 538.2v4M88.5 524.0h3M90 522.0v4M98.5 490.8h3M100 488.8v4M108.5 509.3h3M110 507.3v4M118.5 476.1h3M120 474.1v4M128.5 457.0h3M130 455.0v4M138.5 434.6h3M140 432.6v4M148.5 457.1h3M150 455.1v4M158.5 477.7h3M160 475.7v4M168.5 500.1h3M170 498.1v4M178.5 507.3h3M180 505.3v4M188.5 508.3h3M190 506.3v4M198.5 518.3h3M200 516.3v4M208.5 533.8h3M210 531.8v4M218.5 460.0h3M220 458.0v4M228.5 477.0h3M230 475.0v4M238.5 540.9h3M240 538.9v4M248.5 513.1h3M250 511.1v4M258.5 481.6h3M260 479.6v4M268.5 488.7h3M270 486.7v4M278.5 513.4h3M280 511.4v4M288.5 511.0h3M290 509.0v4M298.5 503.0h3M300 501.0v4M308.5 481.3h3M310 479.3v4M318.5 470.0h3M320 468.0v4M328.5 422.0h3M330 420.0v4M338.5 400.5h3M340 398.5v4M348.5 436.0h3M350 434.0v4M358.5 494.4h3M360 492.4v4M368.5 516.0h3M370 514.0v4M378.5 483.4h3M380 481.4v4M388.5 528.0h3M390 526.0v4M398.5 539.6h3M400 537.6v4M408.5 504.5h3M410 502.5v4M418.5 455.5h3M420 453.5v4M428.5 492.5h3M430 490.5v4M438.5 509.0h3M440 507.0v4M448.5 455.5h3M450 453.5v4M458.5 485.7h3M460 483.7v4M468.5 485.2h3M470 483.2v4M478.5 465.1h3M480 463.1v4M488.5 494.7h3M490 492.7v4M498.5 470.4h3M500 468.4v4M508.5 507.1h3M510 505.1v4M518.5 516.8h3M520 514.8v4M528.5 516.5h3M530 514.5v4M538.5 494.7h3M540 492.7v4M548.5 484.1h3M550 482.1v4M558.5 456.0h3M560 454.0v4M568.5 498.2h3M570 496.2v4M578.5 505.2h3M580 503.2v4M588.5 497.0h3M590 495.0v4M598.5 529.5h3M600 527.5v4M608.5 508.6h3M610 506.6v4M618.5 494.9h3M620 492.9v4M628.5 504.0h3M630 502.0v4M638.5 512.2h3M640 510.2v4M648.5 538.1h3M650 536.1v4M658.5 499.0h3M660 497.0v4M668.5 539.0h3M670 537.0v4M678.5 539.0h3M680 537.0v4M688.5 535.7h3M690 533.7v4" stroke="#F06820" stroke-width="1" shape-rendering="crispEdges"/>
<path d="M50 530.2L60 490.1L70 512.3L80 512.5L90 513.8L100 484.0L110 489.0L120 456.0L130 470.8L140 426.0L150 438.0L160 489.7L170 504.3L180 488.9L190 504.7L200 513.2L210 526.3L220 505.9L230 513.1L240 512.4L250 500.0L260 429.5L270 446.0L280 492.0L290 528.8L300 436.0L310 450.0L320 516.7L330 521.2L340 484.0L350 497.3L360 524.4L370 518.5L380 466.8L390 453.9L400 458.0L410 492.7L420 487.2L430 530.0L440 482.6L450 508.0L460 490.7L470 488.8L480 530.8L490 504.4L500 494.2L510 533.0L520 524.1L530 506.1L540 527.6L550 495.7L560 507.4L570 496.2L580 485.2L590 476.4L600 506.0L610 490.6L620 496.9L630 491.0L640 521.8L650 514.9L660 472.1L670 496.4L680 509.1L690 528.6M48.5 530.2h3M50 528.2v4M58.5 490.1h3M60 488.1v4M68.5 512.3h3M70 510.3v4M78.5 512.5h3M80 510.5v4M88.5 513.8h3M90 511.8v4M98.5 484.0h3M100 482.0v4M108.5 489.0h3M110 487.0v4M118.5 456.0h3M120 454.0v4M128.5 470.8h3M130 468.8v4M138.5 426.0h3M140 424.0v4M148.5 438.0h3M150 436.0v4M158.5 489.7h3M160 487.7v4M168.5 504.3h3M170 502.3v4M178.5 488.9h3M180 486.9v4M188.5 504.7h3M190 502.7v4M198.5 513.2h3M200 511.2v4M208.5 526.3h3M210 524.3v4M218.5 505.9h3M220 503.9v4M228.5 513.1h3M230 511.1v4M238.5 512.4h3M240 510.4v4M248.5 500.0h3M250 498.0v4M258.5 429.5h3M260 427.5v4M268.5 446.0h3M270 444.0v4M278.5 492.0h3M280 490.0v4M288.5 528.8h3M290 526.8v4M298.5 436.0h3M300 434.0v4M308.5 450.0h3M310 448.0v4M318.5 516.7h3M320 514.7v4M328.5 521.2h3M330 519.2v4M338.5 484.0h3M340 482.0v4M348.5 497.3h3M350 495.3v4M358.5 524.4h3M360 522.4v4M368.5 518.5h3M370 516.5v4M378.5 466.8h3M380 464.8v4M388.5 453.9h3M390 451.9v4M398.5 458.0h3M400 456.0v4M408.5 492.7h3M410 490.7v4M418.5 487.2h3M420 485.2v4M428.5 530.0h3M430 528.0v4M438.5 482.6h3M440 480.6v4M448.5 508.0h3M450 506.0v4M458.5 490.7h3M460 488.7v4M468.5 488.8h3M470 486.8v4M478.5 530.8h3M480 528.8v4M488.5 504.4h3M490 502.4v4M498.5 494.2h3M500 492.2v4M508.5 533.0h3M510 531.0v4M518.5 524.1h3M520 522.1v4M528.5 506.1h3M530 504.1v4M538.5 527.6h3M540 525.6v4M548.5 495.7h3M550 493.7v4M558.5 507.4h3M560 505.4v4M568.5 496.2h3M570 494.2v4M578.5 485.2h3M580 483.2v4M588.5 476.4h3M590 474.4v4M598.5 506.0h3M600 504.0v4M608.5 490.6h3M610 488.6v4M618.5 496.9h3M620 494.9v4M628.5 491.0h3M630 489.0v4M638.5 521.8h3M640 519.8v4M648.5 514.9h3M650 512.9v4M658.5 472.1h3M660 470.1v4M668.5 496.4h3M670 494.4v4M678.5 509.1h3M680 507.1v4M688.5 528.6h3M690 526.6v4" stroke="#D0C078" stroke-width="1" shape-rendering="crispEdges"/>
<path d="M50 525.7L60 484.7L70 510.9L80 527.7L90 506.2L100 489.0L110 512.7L120 429.0L130 461.2L140 454.0L150 465.9L160 491.6L170 497.9L180 488.4L190 531.9L200 526.6L210 528.3L220 478.0L230 508.3L240 526.7L250 529.6L260 482.5L270 483.1L280 518.8L290 507.2L300 485.5L310 446.0L320 494.3L330 469.0L340 440.0L350 472.2L360 456.0L370 538.6L380 428.0L390 444.0L400 462.0L410 465.0L420 441.0L430 455.0L440 466.0L450 494.9L460 525.0L470 490.4L480 518.1L490 506.9L500 478.5L510 499.4L520 534.5L530 539.0L540 493.8L550 489.4L560 521.5L570 497.5L580 486.4L590 489.5L600 539.0L610 532.8L620 496.1L630 491.3L640 502.6L650 540.0L660 520.9L670 506.6L680 476.9L690 511.8M48.5 525.7h3M50 523.7v4M58.5 484.7h3M60 482.7v4M68.5 510.9h3M70 508.9v4M78.5 527.7h3M80 525.7v4M88.5 506.2h3M90 504.2v4M98.5 489.0h3M100 487.0v4M108.5 512.7h3M110 510.7v4M118.5 429.0h3M120 427.0v4M128.5 461.2h3M130 459.2v4M138.5 454.0h3M140 452.0v4M148.5 465.9h3M150 463.9v4M158.5 491.6h3M160 489.6v4M168.5 497.9h3M170 495.9v4M178.5 488.4h3M180 486.4v4M188.5 531.9h3M190 529.9v4M198.5 526.6h3M200 524.6v4M208.5 528.3h3M210 526.3v4M218.5 478.0h3M220 476.0v4M228.5 508.3h3M230 506.3v4M238.5 526.7h3M240 524.7v4M248.5 529.6h3M250 527.6v4M258.5 482.5h3M260 480.5v4M268.5 483.1h3M270 481.1v4M278.5 518.8h3M280 516.8v4M288.5 507.2h3M290 505.2v4M298.5 485.5h3M300 483.5v4M308.5 446.0h3M310 444.0v4M318.5 494.3h3M320 492.3v4M328.5 469.0h3M330 467.0v4M338.5 440.0h3M340 438.0v4M348.5 472.2h3M350 470.2v4M358.5 456.0h3M360 454.0v4M368.5 538.6h3M370 536.6v4M378.5 428.0h3M380 426.0v4M388.5 444.0h3M390 442.0v4M398.5 462.0h3M400 460.0v4M408.5 465.0h3M410 463.0v4M418.5 441.0h3M420 439.0v4M428.5 455.0h3M430 453.0v4M438.5 466.0h3M440 464.0v4M448.5 494.9h3M450 492.9v4M458.5 525.0h3M460 523.0v4M468.5 490.4h3M470 488.4v4M478.5 518.1h3M480 516.1v4M488.5 506.9h3M490 504.9v4M498.5 478.5h3M500 476.5v4M508.5 499.4h3M510 497.4v4M518.5 534.5h3M520 532.5v4M528.5 539.0h3M530 537.0v4M538.5 493.8h3M540 491.8v4M548.5 489.4h3M550 487.4v4M558.5 521.5h3M560 519.5v4M568.5 497.5h3M570 495.5v4M578.5 486.4h3M580 484.4v4M588.5 489.5h3M590 487.5v4M598.5 539.0h3M600 537.0v4M608.5 532.8h3M610 530.8v4M618.5 496.1h3M620 494.1v4M628.5 491.3h3M630 489.3v4M638.5 502.6h3M640 500.6v4M648.5 540.0h3M650 538.0v4M658.5 520.9h3M660 518.9v4M668.5 506.6h3M670 504.6v4M678.5 476.9h3M680 474.9v4M688.5 511.8h3M690 509.8v4" stroke="#10D050" stroke-width="1" shape-rendering="crispEdges"/>
<path d="M50 525.4L60 489.3L70 510.0L80 533.3L90 524.0L100 497.9L110 510.4L120 481.0L130 478.0L140 438.9L150 455.6L160 489.8L170 502.2L180 485.4L190 525.9L200 530.1L210 526.9L220 489.0L230 512.2L240 543.0L250 522.5L260 483.8L270 502.1L280 522.3L290 511.1L300 479.0L310 525.4L320 536.2L330 525.2L340 491.7L350 528.0L360 515.0L370 539.0L380 480.7L390 519.6L400 508.4L410 464.9L420 468.1L430 505.9L440 510.9L450 501.0L460 525.0L470 536.5L480 520.4L490 520.8L500 502.7L510 500.6L520 509.6L530 503.0L540 480.6L550 496.5L560 510.9L570 510.9L580 508.5L590 511.6L600 539.0L610 535.1L620 516.4L630 524.7L640 527.4L650 509.5L660 504.3L670 486.4L680 540.0L690 531.9M48.5 525.4h3M50 523.4v4M58.5 489.3h3M60 487.3v4M68.5 510.0h3M70 508.0v4M78.5 533.3h3M80 531.3v4M88.5 524.0h3M90 522.0v4M98.5 497.9h3M100 495.9v4M108.5 510.4h3M110 508.4v4M118.5 481.0h3M120 479.0v4M128.5 478.0h3M130 476.0v4M138.5 438.9h3M140 436.9v4M148.5 455.6h3M150 453.6v4M158.5 489.8h3M160 487.8v4M168.5 502.2h3M170 500.2v4M178.5 485.4h3M180 483.4v4M188.5 525.9h3M190 523.9v4M198.5 530.1h3M200 528.1v4M208.5 526.9h3M210 524.9v4M218.5 489.0h3M220 487.0v4M228.5 512.2h3M230 510.2v4M238.5 543.0h3M240 541.0v4M248.5 522.5h3M250 520.5v4M258.5 483.8h3M260 481.8v4M268.5 502.1h3M270 500.1v4M278.5 522.3h3M280 520.3v4M288.5 511.1h3M290 509.1v4M298.5 479.0h3M300 477.0v4M308.5 525.4h3M310 523.4v4M318.5 536.2h3M320 534.2v4M328.5 525.2h3M330 523.2v4M338.5 491.7h3M340 489.7v4M348.5 528.0h3M350 526.0v4M358.5 515.0h3M360 513.0v4M368.5 539.0h3M370 537.0v4M378.5 480.7h3M380 478.7v4M388.5 519.6h3M390 517.6v4M398.5 508.4h3M400 506.4v4M408.5 464.9h3M410 462.9v4M418.5 468.1h3M420 466.1v4M428.5 505.9h3M430 503.9v4M438.5 510.9h3M440 508.9v4M448.5 501.0h3M450 499.0v4M458.5 525.0h3M460 523.0v4M468.5 536.5h3M470 534.5v4M478.5 520.4h3M480 518.4v4M488.5 520.8h3M490 518.8v4M498.5 502.7h3M500 500.7v4M508.5 500.6h3M510 498.6v4M518.5 509.6h3M520 507.6v4M528.5 503.0h3M530 501.0v4M538.5 480.6h3M540 478.6v4M548.5 496.5h3M550 494.5v4M558.5 510.9h3M560 508.9v4M568.5 510.9h3M570 508.9v4M578.5 508.5h3M580 506.5v4M588.5 511.6h3M590 509.6v4M598.5 539.0h3M600 537.0v4M608.5 535.1h3M610 533.1v4M618.5 516.4h3M620 514.4v4M628.5 524.7h3M630 522.7v4M638.5 527.4h3M640 525.4v4M648.5 509.5h3M650 507.5v4M658.5 504.3h3M660 502.3v4M668.5 486.4h3M670 484.4v4M678.5 540.0h3M680 538.0v4M688.5 531.9h3M690 529.9v4" stroke="#204060" stroke-width="1" shape-rendering="crispEdges"/>
<path d="M50 515.0L60 497.2L70 516.3L80 526.7L90 525.0L100 485.9L110 520.0L120 473.4L130 459.7L140 437.8L150 462.5L160 478.7L170 503.9L180 490.0L190 521.7L200 540.0L210 536.3L220 497.1L230 503.5L240 530.2L250 526.4L260 482.1L270 497.6L280 506.1L290 485.0L300 463.6L310 533.0L320 498.0L330 460.8L340 428.5L350 450.3L360 506.8L370 523.2L380 466.1L390 508.3L400 540.0L410 500.0L420 472.0L430 430.0L440 494.0L450 410.0L460 415.5L470 426.5L480 437.0L490 520.0L500 513.8L510 492.3L520 518.3L530 513.7L540 493.5L550 501.0L560 508.1L570 514.5L580 536.0L590 540.0L600 539.0L610 540.0L620 519.7L630 505.9L640 511.2L650 507.1L660 515.0L670 525.7L680 540.0L690 534.2M48.5 515.0h3M50 513.0v4M58.5 497.2h3M60 495.2v4M68.5 516.3h3M70 514.3v4M78.5 526.7h3M80 524.7v4M88.5 525.0h3M90 523.0v4M98.5 485.9h3M100 483.9v4M108.5 520.0h3M110 518.0v4M118.5 473.4h3M120 471.4v4M128.5 459.7h3M130 457.7v4M138.5 437.8h3M140 435.8v4M148.5 462.5h3M150 460.5v4M158.5 478.7h3M160 476.7v4M168.5 503.9h3M170 501.9v4M178.5 490.0h3M180 488.0v4M188.5 521.7h3M190 519.7v4M198.5 540.0h3M200 538.0v4M208.5 536.3h3M210 534.3v4M218.5 497.1h3M220 495.1v4M228.5 503.5h3M230 501.5v4M238.5 530.2h3M240 528.2v4M248.5 526.4h3M250 524.4v4M258.5 482.1h3M260 480.1v4M268.5 497.6h3M270 495.6v4M278.5 506.1h3M280 504.1v4M288.5 485.0h3M290 483.0v4M298.5 463.6h3M300 461.6v4M308.5 533.0h3M310 531.0v4M318.5 498.0h3M320 496.0v4M328.5 460.8h3M330 458.8v4M338.5 428.5h3M340 426.5v4M348.5 450.3h3M350 448.3v4M358.5 506.8h3M360 504.8v4M368.5 523.2h3M370 521.2v4M378.5 466.1h3M380 464.1v4M388.5 508.3h3M390 506.3v4M398.5 540.0h3M400 538.0v4M408.5 500.0h3M410 498.0v4M418.5 472.0h3M420 470.0v4M428.5 430.0h3M430 428.0v4M438.5 494.0h3M440 492.0v4M448.5 410.0h3M450 408.0v4M458.5 415.5h3M460 413.5v4M468.5 426.5h3M470 424.5v4M478.5 437.0h3M480 435.0v4M488.5 520.0h3M490 518.0v4M498.5 513.8h3M500 511.8v4M508.5 492.3h3M510 490.3v4M518.5 518.3h3M520 516.3v4M528.5 513.7h3M530 511.7v4M538.5 493.5h3M540 491.5v4M548.5 501.0h3M550 499.0v4M558.5 508.1h3M560 506.1v4M568.5 514.5h3M570 512.5v4M578.5 536.0h3M580 534.0v4M588.5 540.0h3M590 538.0v4M598.5 539.0h3M600 537.0v4M608.5 540.0h3M610 538.0v4M618.5 519.7h3M620 517.7v4M628.5 505.9h3M630 503.9v4M638.5 511.2h3M640 509.2v4M648.5 507.1h3M650 505.1v4M658.5 515.0h3M660 513.0v4M668.5 525.7h3M670 523.7v4M678.5 540.0h3M680 538.0v4M688.5 534.2h3M690 532.2v4" stroke="#687078" stroke-width="1" shape-rendering="crispEdges"/>
<path d="M50 530.4L60 489.1L70 510.6L80 526.5L90 513.1L100 482.2L110 534.0L120 511.0L130 462.5L140 442.3L150 468.4L160 500.3L170 490.2L180 478.0L190 506.4L200 515.5L210 513.4L220 478.7L230 490.0L240 529.2L250 533.7L260 485.3L270 483.8L280 512.3L290 519.2L300 481.7L310 513.6L320 533.2L330 477.1L340 436.0L350 488.9L360 456.0L370 475.0L380 453.4L390 498.3L400 495.0L410 444.4L420 450.6L430 453.0L440 477.5L450 472.3L460 486.0L470 488.5L480 478.3L490 519.7L500 435.0L510 505.1L520 525.3L530 523.5L540 489.6L550 456.5L560 483.8L570 490.4L580 523.2L590 481.2L600 504.1L610 505.6L620 524.8L630 510.3L640 539.0L650 520.4L660 497.7L670 506.5L680 509.9L690 525.0M48.5 530.4h3M50 528.4v4M58.5 489.1h3M60 487.1v4M68.5 510.6h3M70 508.6v4M78.5 526.5h3M80 524.5v4M88.5 513.1h3M90 511.1v4M98.5 482.2h3M100 480.2v4M108.5 534.0h3M110 532.0v4M118.5 511.0h3M120 509.0v4M128.5 462.5h3M130 460.5v4M138.5 442.3h3M140 440.3v4M148.5 468.4h3M150 466.4v4M158.5 500.3h3M160 498.3v4M168.5 490.2h3M170 488.2v4M178.5 478.0h3M180 476.0v4M188.5 506.4h3M190 504.4v4M198.5 515.5h3M200 513.5v4M208.5 513.4h3M210 511.4v4M218.5 478.7h3M220 476.7v4M228.5 490.0h3M230 488.0v4M238.5 529.2h3M240 527.2v4M248.5 533.7h3M250 531.7v4M258.5 485.3h3M260 483.3v4M268.5 483.8h3M270 481.8v4M278.5 512.3h3M280 510.3v4M288.5 519.2h3M290 517.2v4M298.5 481.7h3M300 479.7v4M308.5 513.6h3M310 511.6v4M318.5 533.2h3M320 531.2v4M328.5 477.1h3M330 475.1v4M338.5 436.0h3M340 434.0v4M348.5 488.9h3M350 486.9v4M358.5 456.0h3M360 454.0v4M368.5 475.0h3M370 473.0v4M378.5 453.4h3M380 451.4v4M388.5 498.3h3M390 496.3v4M398.5 495.0h3M400 493.0v4M408.5 444.4h3M410 442.4v4M418.5 450.6h3M420 448.6v4M428.5 453.0h3M430 451.0v4M438.5 477.5h3M440 475.5v4M448.5 472.3h3M450 470.3v4M458.5 486.0h3M460 484.0v4M468.5 488.5h3M470 486.5v4M478.5 478.3h3M480 476.3v4M488.5 519.7h3M490 517.7v4M498.5 435.0h3M500 433.0v4M508.5 505.1h3M510 503.1v4M518.5 525.3h3M520 523.3v4M528.5 523.5h3M530 521.5v4M538.5 489.6h3M540 487.6v4M548.5 456.5h3M550 454.5v4M558.5 483.8h3M560 481.8v4M568.5 490.4h3M570 488.4v4M578.5 523.2h3M580 521.2v4M588.5 481.2h3M590 479.2v4M598.5 504.1h3M600 502.1v4M608.5 505.6h3M610 503.6v4M618.5 524.8h3M620 522.8v4M628.5 510.3h3M630 508.3v4M638.5 539.0h3M640 537.0v4M648.5 520.4h3M650 518.4v4M658.5 497.7h3M660 495.7v4M668.5 506.5h3M670 504.5v4M678.5 509.9h3M680 507.9v4M688.5 525.0h3M690 523.0v4" stroke="#E080F0" stroke-width="1" shape-rendering="crispEdges"/>
<path d="M50 536.0L60 495.3L70 521.4L80 543.0L90 538.7L100 496.4L110 520.0L120 482.4L130 456.1L140 433.5L150 457.4L160 482.5L170 505.3L180 495.7L190 512.6L200 526.3L210 540.0L220 512.4L230 525.0L240 527.3L250 534.4L260 490.3L270 478.5L280 523.4L290 532.7L300 503.0L310 533.0L320 540.0L330 528.4L340 495.1L350 528.0L360 537.0L370 527.5L380 511.1L390 519.6L400 511.1L410 470.4L420 440.0L430 453.0L440 481.5L450 489.5L460 460.2L470 459.2L480 503.5L490 500.0L500 491.7L510 505.1L520 526.6L530 539.0L540 530.7L550 528.0L560 510.4L570 499.7L580 526.5L590 492.4L600 499.2L610 540.0L620 470.0L630 442.0L640 500.0L650 516.3L660 497.7L670 505.2L680 510.8L690 512.0M48.5 536.0h3M50 534.0v4M58.5 495.3h3M60 493.3v4M68.5 521.4h3M70 519.4v4M78.5 543.0h3M80 541.0v4M88.5 538.7h3M90 536.7v4M98.5 496.4h3M100 494.4v4M108.5 520.0h3M110 518.0v4M118.5 482.4h3M120 480.4v4M128.5 456.1h3M130 454.1v4M138.5 433.5h3M140 431.5v4M148.5 457.4h3M150 455.4v4M158.5 482.5h3M160 480.5v4M168.5 505.3h3M170 503.3v4M178.5 495.7h3M180 493.7v4M188.5 512.6h3M190 510.6v4M198.5 526.3h3M200 524.3v4M208.5 540.0h3M210 538.0v4M218.5 512.4h3M220 510.4v4M228.5 525.0h3M230 523.0v4M238.5 527.3h3M240 525.3v4M248.5 534.4h3M250 532.4v4M258.5 490.3h3M260 488.3v4M268.5 478.5h3M270 476.5v4M278.5 523.4h3M280 521.4v4M288.5 532.7h3M290 530.7v4M298.5 503.0h3M300 501.0v4M308.5 533.0h3M310 531.0v4M318.5 540.0h3M320 538.0v4M328.5 528.4h3M330 526.4v4M338.5 495.1h3M340 493.1v4M348.5 528.0h3M350 526.0v4M358.5 537.0h3M360 535.0v4M368.5 527.5h3M370 525.5v4M378.5 511.1h3M380 509.1v4M388.5 519.6h3M390 517.6v4M398.5 511.1h3M400 509.1v4M408.5 470.4h3M410 468.4v4M418.5 440.0h3M420 438.0v4M428.5 453.0h3M430 451.0v4M438.5 481.5h3M440 479.5v4M448.5 489.5h3M450 487.5v4M458.5 460.2h3M460 458.2v4M468.5 459.2h3M470 457.2v4M478.5 503.5h3M480 501.5v4M488.5 500.0h3M490 498.0v4M498.5 491.7h3M500 489.7v4M508.5 505.1h3M510 503.1v4M518.5 526.6h3M520 524.6v4M528.5 539.0h3M530 537.0v4M538.5 530.7h3M540 528.7v4M548.5 528.0h3M550 526.0v4M558.5 510.4h3M560 508.4v4M568.5 499.7h3M570 497.7v4M578.5 526.5h3M580 524.5v4M588.5 492.4h3M590 490.4v4M598.5 499.2h3M600 497.2v4M608.5 540.0h3M610 538.0v4M618.5 470.0h3M620 468.0v4M628.5 442.0h3M630 440.0v4M638.5 500.0h3M640 498.0v4M648.5 516.3h3M650 514.3v4M658.5 497.7h3M660 495.7v4M668.5 505.2h3M670 503.2v4M678.5 510.8h3M680 508.8v4M688.5 512.0h3M690 510.0v4" stroke="#8020F0" stroke-width="1" shape-rendering="crispEdges"/>
<path d="M50 535.7L60 498.0L70 522.0L80 543.0L90 531.6L100 494.4L110 511.9L120 483.4L130 475.0L140 426.0L150 452.9L160 482.0L170 509.9L180 472.0L190 522.3L200 524.1L210 520.2L220 495.8L230 505.9L240 538.3L250 521.9L260 485.6L270 523.0L280 524.2L290 531.4L300 440.0L310 442.0L320 456.0L330 470.0L340 482.1L350 496.3L360 527.6L370 514.0L380 485.9L390 501.4L400 540.0L410 515.2L420 493.2L430 530.0L440 529.3L450 508.5L460 437.0L470 524.1L480 497.3L490 506.2L500 456.2L510 500.4L520 512.8L530 520.3L540 532.0L550 496.5L560 502.9L570 480.9L580 475.9L590 505.5L600 539.0L610 540.0L620 540.0L630 528.0L640 524.5L650 513.9L660 517.1L670 515.0L680 522.6L690 518.3M48.5 535.7h3M50 533.7v4M58.5 498.0h3M60 496.0v4M68.5 522.0h3M70 520.0v4M78.5 543.0h3M80 541.0v4M88.5 531.6h3M90 529.6v4M98.5 494.4h3M100 492.4v4M108.5 511.9h3M110 509.9v4M118.5 483.4h3M120 481.4v4M128.5 475.0h3M130 473.0v4M138.5 426.0h3M140 424.0v4M148.5 452.9h3M150 450.9v4M158.5 482.0h3M160 480.0v4M168.5 509.9h3M170 507.9v4M178.5 472.0h3M180 470.0v4M188.5 522.3h3M190 520.3v4M198.5 524.1h3M200 522.1v4M208.5 520.2h3M210 518.2v4M218.5 495.8h3M220 493.8v4M228.5 505.9h3M230 503.9v4M238.5 538.3h3M240 536.3v4M248.5 521.9h3M250 519.9v4M258.5 485.6h3M260 483.6v4M268.5 523.0h3M270 521.0v4M278.5 524.2h3M280 522.2v4M288.5 531.4h3M290 529.4v4M298.5 440.0h3M300 438.0v4M308.5 442.0h3M310 440.0v4M318.5 456.0h3M320 454.0v4M328.5 470.0h3M330 468.0v4M338.5 482.1h3M340 480.1v4M348.5 496.3h3M350 494.3v4M358.5 527.6h3M360 525.6v4M368.5 514.0h3M370 512.0v4M378.5 485.9h3M380 483.9v4M388.5 501.4h3M390 499.4v4M398.5 540.0h3M400 538.0v4M408.5 515.2h3M410 513.2v4M418.5 493.2h3M420 491.2v4M428.5 530.0h3M430 528.0v4M438.5 529.3h3M440 527.3v4M448.5 508.5h3M450 506.5v4M458.5 437.0h3M460 435.0v4M468.5 524.1h3M470 522.1v4M478.5 497.3h3M480 495.3v4M488.5 506.2h3M490 504.2v4M498.5 456.2h3M500 454.2v4M508.5 500.4h3M510 498.4v4M518.5 512.8h3M520 510.8v4M528.5 520.3h3M530 518.3v4M538.5 532.0h3M540 530.0v4M548.5 496.5h3M550 494.5v4M558.5 502.9h3M560 500.9v4M568.5 480.9h3M570 478.9v4M578.5 475.9h3M580 473.9v4M588.5 505.5h3M590 503.5v4M598.5 539.0h3M600 537.0v4M608.5 540.0h3M610 538.0v4M618.5 540.0h3M620 538.0v4M628.5 528.0h3M630 526.0v4M638.5 524.5h3M640 522.5v4M648.5 513.9h3M650 511.9v4M658.5 517.1h3M660 515.1v4M668.5 515.0h3M670 513.0v4M678.5 522.6h3M680 520.6v4M688.5 518.3h3M690 516.3v4" stroke="#806030" stroke-width="1" shape-rendering="crispEdges"/>
<path d="M50 531.8L60 498.0L70 511.0L80 525.5L90 506.7L100 502.6L110 514.1L120 475.9L130 477.5L140 450.1L150 455.7L160 469.0L170 474.5L180 469.0L190 500.0L200 525.6L210 519.9L220 487.8L230 519.4L240 519.5L250 511.5L260 478.8L270 502.5L280 515.3L290 498.0L300 469.6L310 533.0L320 511.7L330 489.2L340 463.6L350 464.7L360 512.0L370 514.2L380 485.6L390 484.8L400 458.0L410 470.0L420 455.0L430 462.0L440 446.0L450 451.4L460 443.0L470 481.4L480 504.5L490 521.5L500 493.5L510 482.0L520 505.4L530 505.9L540 492.1L550 494.4L560 535.8L570 497.6L580 496.5L590 527.9L600 532.5L610 535.0L620 496.0L630 482.1L640 528.1L650 504.0L660 481.9L670 506.8L680 537.7L690 536.1M48.5 531.8h3M50 529.8v4M58.5 498.0h3M60 496.0v4M68.5 511.0h3M70 509.0v4M78.5 525.5h3M80 523.5v4M88.5 506.7h3M90 504.7v4M98.5 502.6h3M100 500.6v4M108.5 514.1h3M110 512.1v4M118.5 475.9h3M120 473.9v4M128.5 477.5h3M130 475.5v4M138.5 450.1h3M140 448.1v4M148.5 455.7h3M150 453.7v4M158.5 469.0h3M160 467.0v4M168.5 474.5h3M170 472.5v4M178.5 469.0h3M180 467.0v4M188.5 500.0h3M190 498.0v4M198.5 525.6h3M200 523.6v4M208.5 519.9h3M210 517.9v4M218.5 487.8h3M220 485.8v4M228.5 519.4h3M230 517.4v4M238.5 519.5h3M240 517.5v4M248.5 511.5h3M250 509.5v4M258.5 478.8h3M260 476.8v4M268.5 502.5h3M270 500.5v4M278.5 515.3h3M280 513.3v4M288.5 498.0h3M290 496.0v4M298.5 469.6h3M300 467.6v4M308.5 533.0h3M310 531.0v4M318.5 511.7h3M320 509.7v4M328.5 489.2h3M330 487.2v4M338.5 463.6h3M340 461.6v4M348.5 464.7h3M350 462.7v4M358.5 512.0h3M360 510.0v4M368.5 514.2h3M370 512.2v4M378.5 485.6h3M380 483.6v4M388.5 484.8h3M390 482.8v4M398.5 458.0h3M400 456.0v4M408.5 470.0h3M410 468.0v4M418.5 455.0h3M420 453.0v4M428.5 462.0h3M430 460.0v4M438.5 446.0h3M440 444.0v4M448.5 451.4h3M450 449.4v4M458.5 443.0h3M460 441.0v4M468.5 481.4h3M470 479.4v4M478.5 504.5h3M480 502.5v4M488.5 521.5h3M490 519.5v4M498.5 493.5h3M500 491.5v4M508.5 482.0h3M510 480.0v4M518.5 505.4h3M520 503.4v4M528.5 505.9h3M530 503.9v4M538.5 492.1h3M540 490.1v4M548.5 494.4h3M550 492.4v4M558.5 535.8h3M560 533.8v4M568.5 497.6h3M570 495.6v4M578.5 496.5h3M580 494.5v4M588.5 527.9h3M590 525.9v4M598.5 532.5h3M600 530.5v4M608.5 535.0h3M610 533.0v4M618.5 496.0h3M620 494.0v4M628.5 482.1h3M630 480.1v4M638.5 528.1h3M640 526.1v4M648.5 504.0h3M650 502.0v4M658.5 481.9h3M660 479.9v4M668.5 506.8h3M670 504.8v4M678.5 537.7h3M680 535.7v4M688.5 536.1h3M690 534.1v4" stroke="#300870" stroke-width="1" shape-rendering="crispEdges"/>
<path d="M50 532.5L60 498.0L70 518.3L80 543.0L90 524.1L100 506.0L110 518.1L120 486.2L130 445.0L140 418.0L150 438.0L160 473.9L170 492.7L180 507.7L190 532.5L200 535.6L210 539.6L220 496.9L230 518.6L240 537.8L250 542.0L260 503.0L270 512.0L280 510.4L290 504.1L300 485.0L310 533.0L320 532.1L330 483.3L340 456.5L350 462.2L360 456.0L370 475.0L380 471.3L390 463.5L400 472.9L410 526.9L420 444.0L430 454.0L440 464.5L450 459.0L460 465.7L470 538.0L480 507.8L490 501.3L500 468.2L510 516.5L520 511.6L530 484.1L540 442.0L550 482.5L560 501.9L570 501.4L580 480.8L590 480.5L600 504.1L610 529.9L620 496.6L630 508.4L640 511.9L650 506.9L660 469.0L670 486.6L680 509.6L690 509.0M48.5 532.5h3M50 530.5v4M58.5 498.0h3M60 496.0v4M68.5 518.3h3M70 516.3v4M78.5 543.0h3M80 541.0v4M88.5 524.1h3M90 522.1v4M98.5 506.0h3M100 504.0v4M108.5 518.1h3M110 516.1v4M118.5 486.2h3M120 484.2v4M128.5 445.0h3M130 443.0v4M138.5 418.0h3M140 416.0v4M148.5 438.0h3M150 436.0v4M158.5 473.9h3M160 471.9v4M168.5 492.7h3M170 490.7v4M178.5 507.7h3M180 505.7v4M188.5 532.5h3M190 530.5v4M198.5 535.6h3M200 533.6v4M208.5 539.6h3M210 537.6v4M218.5 496.9h3M220 494.9v4M228.5 518.6h3M230 516.6v4M238.5 537.8h3M240 535.8v4M248.5 542.0h3M250 540.0v4M258.5 503.0h3M260 501.0v4M268.5 512.0h3M270 510.0v4M278.5 510.4h3M280 508.4v4M288.5 504.1h3M290 502.1v4M298.5 485.0h3M300 483.0v4M308.5 533.0h3M310 531.0v4M318.5 532.1h3M320 530.1v4M328.5 483.3h3M330 481.3v4M338.5 456.5h3M340 454.5v4M348.5 462.2h3M350 460.2v4M358.5 456.0h3M360 454.0v4M368.5 475.0h3M370 473.0v4M378.5 471.3h3M380 469.3v4M388.5 463.5h3M390 461.5v4M398.5 472.9h3M400 470.9v4M408.5 526.9h3M410 524.9v4M418.5 444.0h3M420 442.0v4M428.5 454.0h3M430 452.0v4M438.5 464.5h3M440 462.5v4M448.5 459.0h3M450 457.0v4M458.5 465.7h3M460 463.7v4M468.5 538.0h3M470 536.0v4M478.5 507.8h3M480 505.8v4M488.5 501.3h3M490 499.3v4M498.5 468.2h3M500 466.2v4M508.5 516.5h3M510 514.5v4M518.5 511.6h3M520 509.6v4M528.5 484.1h3M530 482.1v4M538.5 442.0h3M540 440.0v4M548.5 482.5h3M550 480.5v4M558.5 501.9h3M560 499.9v4M568.5 501.4h3M570 499.4v4M578.5 480.8h3M580 478.8v4M588.5 480.5h3M590 478.5v4M598.5 504.1h3M600 502.1v4M608.5 529.9h3M610 527.9v4M618.5 496.6h3M620 494.6v4M628.5 508.4h3M630 506.4v4M638.5 511.9h3M640 509.9v4M648.5 506.9h3M650 504.9v4M658.5 469.0h3M660 467.0v4M668.5 486.6h3M670 484.6v4M678.5 509.6h3M680 507.6v4M688.5 509.0h3M690 507.0v4" stroke="#F0D010" stroke-width="1" shape-rendering="crispEdges"/>
<path d="M50 525.8L60 481.1L70 506.7L80 519.4L90 534.5L100 510.0L110 514.2L120 474.6L130 445.0L140 439.2L150 447.8L160 474.0L170 522.5L180 512.0L190 526.4L200 534.5L210 534.1L220 494.4L230 519.6L240 525.5L250 533.7L260 497.6L270 504.2L280 528.8L290 514.6L300 448.3L310 475.3L320 502.6L330 484.8L340 445.0L350 469.8L360 528.8L370 513.3L380 452.0L390 522.0L400 478.7L410 515.2L420 451.8L430 470.5L440 447.6L450 507.5L460 477.5L470 467.6L480 502.7L490 505.5L500 450.5L510 491.0L520 518.5L530 527.6L540 496.1L550 496.3L560 509.7L570 480.0L580 491.9L590 495.2L600 490.6L610 517.6L620 493.1L630 462.6L640 525.6L650 539.4L660 543.0L670 539.0L680 529.4L690 540.0M48.5 525.8h3M50 523.8v4M58.5 481.1h3M60 479.1v4M68.5 506.7h3M70 504.7v4M78.5 519.4h3M80 517.4v4M88.5 534.5h3M90 532.5v4M98.5 510.0h3M100 508.0v4M108.5 514.2h3M110 512.2v4M118.5 474.6h3M120 472.6v4M128.5 445.0h3M130 443.0v4M138.5 439.2h3M140 437.2v4M148.5 447.8h3M150 445.8v4M158.5 474.0h3M160 472.0v4M168.5 522.5h3M170 520.5v4M178.5 512.0h3M180 510.0v4M188.5 526.4h3M190 524.4v4M198.5 534.5h3M200 532.5v4M208.5 534.1h3M210 532.1v4M218.5 494.4h3M220 492.4v4M228.5 519.6h3M230 517.6v4M238.5 525.5h3M240 523.5v4M248.5 533.7h3M250 531.7v4M258.5 497.6h3M260 495.6v4M268.5 504.2h3M270 502.2v4M278.5 528.8h3M280 526.8v4M288.5 514.6h3M290 512.6v4M298.5 448.3h3M300 446.3v4M308.5 475.3h3M310 473.3v4M318.5 502.6h3M320 500.6v4M328.5 484.8h3M330 482.8v4M338.5 445.0h3M340 443.0v4M348.5 469.8h3M350 467.8v4M358.5 528.8h3M360 526.8v4M368.5 513.3h3M370 511.3v4M378.5 452.0h3M380 450.0v4M388.5 522.0h3M390 520.0v4M398.5 478.7h3M400 476.7v4M408.5 515.2h3M410 513.2v4M418.5 451.8h3M420 449.8v4M428.5 470.5h3M430 468.5v4M438.5 447.6h3M440 445.6v4M448.5 507.5h3M450 505.5v4M458.5 477.5h3M460 475.5v4M468.5 467.6h3M470 465.6v4M478.5 502.7h3M480 500.7v4M488.5 505.5h3M490 503.5v4M498.5 450.5h3M500 448.5v4M508.5 491.0h3M510 489.0v4M518.5 518.5h3M520 516.5v4M528.5 527.6h3M530 525.6v4M538.5 496.1h3M540 494.1v4M548.5 496.3h3M550 494.3v4M558.5 509.7h3M560 507.7v4M568.5 480.0h3M570 478.0v4M578.5 491.9h3M580 489.9v4M588.5 495.2h3M590 493.2v4M598.5 490.6h3M600 488.6v4M608.5 517.6h3M610 515.6v4M618.5 493.1h3M620 491.1v4M628.5 462.6h3M630 460.6v4M638.5 525.6h3M640 523.6v4M648.5 539.4h3M650 537.4v4M658.5 543.0h3M660 541.0v4M668.5 539.0h3M670 537.0v4M678.5 529.4h3M680 527.4v4M688.5 540.0h3M690 538.0v4" stroke="#2868A0" stroke-width="1" shape-rendering="crispEdges"/>
<path d="M50 535.0L60 492.9L70 522.0L80 530.2L90 531.2L100 496.0L110 509.3L120 463.2L130 463.1L140 438.5L150 462.0L160 482.0L170 517.3L180 494.8L190 539.0L200 537.2L210 515.0L220 486.0L230 517.7L240 523.8L250 533.8L260 474.0L270 522.1L280 516.6L290 504.1L300 446.0L310 505.6L320 532.8L330 477.5L340 451.5L350 499.7L360 537.0L370 540.0L380 447.1L390 503.8L400 505.5L410 494.6L420 480.3L430 497.1L440 531.4L450 536.3L460 474.0L470 496.7L480 494.8L490 528.3L500 510.5L510 505.0L520 506.2L530 522.1L540 489.9L550 489.5L560 516.3L570 498.7L580 509.2L590 523.4L600 516.7L610 540.0L620 531.1L630 526.0L640 543.0L650 533.3L660 496.6L670 509.7L680 498.6L690 520.4M48.5 535.0h3M50 533.0v4M58.5 492.9h3M60 490.9v4M68.5 522.0h3M70 520.0v4M78.5 530.2h3M80 528.2v4M88.5 531.2h3M90 529.2v4M98.5 496.0h3M100 494.0v4M108.5 509.3h3M110 507.3v4M118.5 463.2h3M120 461.2v4M128.5 463.1h3M130 461.1v4M138.5 438.5h3M140 436.5v4M148.5 462.0h3M150 460.0v4M158.5 482.0h3M160 480.0v4M168.5 517.3h3M170 515.3v4M178.5 494.8h3M180 492.8v4M188.5 539.0h3M190 537.0v4M198.5 537.2h3M200 535.2v4M208.5 515.0h3M210 513.0v4M218.5 486.0h3M220 484.0v4M228.5 517.7h3M230 515.7v4M238.5 523.8h3M240 521.8v4M248.5 533.8h3M250 531.8v4M258.5 474.0h3M260 472.0v4M268.5 522.1h3M270 520.1v4M278.5 516.6h3M280 514.6v4M288.5 504.1h3M290 502.1v4M298.5 446.0h3M300 444.0v4M308.5 505.6h3M310 503.6v4M318.5 532.8h3M320 530.8v4M328.5 477.5h3M330 475.5v4M338.5 451.5h3M340 449.5v4M348.5 499.7h3M350 497.7v4M358.5 537.0h3M360 535.0v4M368.5 540.0h3M370 538.0v4M378.5 447.1h3M380 445.1v4M388.5 503.8h3M390 501.8v4M398.5 505.5h3M400 503.5v4M408.5 494.6h3M410 492.6v4M418.5 480.3h3M420 478.3v4M428.5 497.1h3M430 495.1v4M438.5 531.4h3M440 529.4v4M448.5 536.3h3M450 534.3v4M458.5 474.0h3M460 472.0v4M468.5 496.7h3M470 494.7v4M478.5 494.8h3M480 492.8v4M488.5 528.3h3M490 526.3v4M498.5 510.5h3M500 508.5v4M508.5 505.0h3M510 503.0v4M518.5 506.2h3M520 504.2v4M528.5 522.1h3M530 520.1v4M538.5 489.9h3M540 487.9v4M548.5 489.5h3M550 487.5v4M558.5 516.3h3M560 514.3v4M568.5 498.7h3M570 496.7v4M578.5 509.2h3M580 507.2v4M588.5 523.4h3M590 521.4v4M598.5 516.7h3M600 514.7v4M608.5 540.0h3M610 538.0v4M618.5 531.1h3M620 529.1v4M628.5 526.0h3M630 524.0v4M638.5 543.0h3M640 541.0v4M648.5 533.3h3M650 531.3v4M658.5 496.6h3M660 494.6v4M668.5 509.7h3M670 507.7v4M678.5 498.6h3M680 496.6v4M688.5 520.4h3M690 518.4v4" stroke="#905820" stroke-width="1" shape-rendering="crispEdges"/>
<path d="M50 528.4L60 481.7L70 514.7L80 522.0L90 514.8L100 480.9L110 501.7L120 444.4L130 461.8L140 446.3L150 475.0L160 478.5L170 506.6L180 505.6L190 535.2L200 533.9L210 539.9L220 505.7L230 518.8L240 534.0L250 537.9L260 489.8L270 509.4L280 517.7L290 506.8L300 432.0L310 533.0L320 531.1L330 523.0L340 447.0L350 520.9L360 530.4L370 525.0L380 491.4L390 473.2L400 501.4L410 467.1L420 501.5L430 530.0L440 494.2L450 478.1L460 476.7L470 486.3L480 494.3L490 518.1L500 485.6L510 506.2L520 507.4L530 509.7L540 531.3L550 528.0L560 506.5L570 501.2L580 498.5L590 496.5L600 513.8L610 517.9L620 497.4L630 499.5L640 493.2L650 498.8L660 450.6L670 474.0L680 475.0L690 470.0M48.5 528.4h3M50 526.4v4M58.5 481.7h3M60 479.7v4M68.5 514.7h3M70 512.7v4M78.5 522.0h3M80 520.0v4M88.5 514.8h3M90 512.8v4M98.5 480.9h3M100 478.9v4M108.5 501.7h3M110 499.7v4M118.5 444.4h3M120 442.4v4M128.5 461.8h3M130 459.8v4M138.5 446.3h3M140 444.3v4M148.5 475.0h3M150 473.0v4M158.5 478.5h3M160 476.5v4M168.5 506.6h3M170 504.6v4M178.5 505.6h3M180 503.6v4M188.5 535.2h3M190 533.2v4M198.5 533.9h3M200 531.9v4M208.5 539.9h3M210 537.9v4M218.5 505.7h3M220 503.7v4M228.5 518.8h3M230 516.8v4M238.5 534.0h3M240 532.0v4M248.5 537.9h3M250 535.9v4M258.5 489.8h3M260 487.8v4M268.5 509.4h3M270 507.4v4M278.5 517.7h3M280 515.7v4M288.5 506.8h3M290 504.8v4M298.5 432.0h3M300 430.0v4M308.5 533.0h3M310 531.0v4M318.5 531.1h3M320 529.1v4M328.5 523.0h3M330 521.0v4M338.5 447.0h3M340 445.0v4M348.5 520.9h3M350 518.9v4M358.5 530.4h3M360 528.4v4M368.5 525.0h3M370 523.0v4M378.5 491.4h3M380 489.4v4M388.5 473.2h3M390 471.2v4M398.5 501.4h3M400 499.4v4M408.5 467.1h3M410 465.1v4M418.5 501.5h3M420 499.5v4M428.5 530.0h3M430 528.0v4M438.5 494.2h3M440 492.2v4M448.5 478.1h3M450 476.1v4M458.5 476.7h3M460 474.7v4M468.5 486.3h3M470 484.3v4M478.5 494.3h3M480 492.3v4M488.5 518.1h3M490 516.1v4M498.5 485.6h3M500 483.6v4M508.5 506.2h3M510 504.2v4M518.5 507.4h3M520 505.4v4M528.5 509.7h3M530 507.7v4M538.5 531.3h3M540 529.3v4M548.5 528.0h3M550 526.0v4M558.5 506.5h3M560 504.5v4M568.5 501.2h3M570 499.2v4M578.5 498.5h3M580 496.5v4M588.5 496.5h3M590 494.5v4M598.5 513.8h3M600 511.8v4M608.5 517.9h3M610 515.9v4M618.5 497.4h3M620 495.4v4M628.5 499.5h3M630 497.5v4M638.5 493.2h3M640 491.2v4M648.5 498.8h3M650 496.8v4M658.5 450.6h3M660 448.6v4M668.5 474.0h3M670 472.0v4M678.5 475.0h3M680 473.0v4M688.5 470.0h3M690 468.0v4" stroke="#9888E8" stroke-width="1" shape-rendering="crispEdges"/>
<path d="M50 531.2L60 493.7L70 516.7L80 537.7L90 509.7L100 482.1L110 509.5L120 487.0L130 473.0L140 448.2L150 475.0L160 505.0L170 526.0L180 478.0L190 524.1L200 506.0L210 520.4L220 492.5L230 494.6L240 515.3L250 519.1L260 488.2L270 512.9L280 509.5L290 491.6L300 440.0L310 472.5L320 495.7L330 514.2L340 456.7L350 518.9L360 511.5L370 493.4L380 442.0L390 501.1L400 481.5L410 510.8L420 505.1L430 530.0L440 498.7L450 445.9L460 486.6L470 515.1L480 523.6L490 465.3L500 461.1L510 503.6L520 540.0L530 538.4L540 442.0L550 480.0L560 433.0L570 424.0L580 470.0L590 540.0L600 514.2L610 533.3L620 495.1L630 528.0L640 543.0L650 523.3L660 531.1L670 506.1L680 511.4L690 534.0M48.5 531.2h3M50 529.2v4M58.5 493.7h3M60 491.7v4M68.5 516.7h3M70 514.7v4M78.5 537.7h3M80 535.7v4M88.5 509.7h3M90 507.7v4M98.5 482.1h3M100 480.1v4M108.5 509.5h3M110 507.5v4M118.5 487.0h3M120 485.0v4M128.5 473.0h3M130 471.0v4M138.5 448.2h3M140 446.2v4M148.5 475.0h3M150 473.0v4M158.5 505.0h3M160 503.0v4M168.5 526.0h3M170 524.0v4M178.5 478.0h3M180 476.0v4M188.5 524.1h3M190 522.1v4M198.5 506.0h3M200 504.0v4M208.5 520.4h3M210 518.4v4M218.5 492.5h3M220 490.5v4M228.5 494.6h3M230 492.6v4M238.5 515.3h3M240 513.3v4M248.5 519.1h3M250 517.1v4M258.5 488.2h3M260 486.2v4M268.5 512.9h3M270 510.9v4M278.5 509.5h3M280 507.5v4M288.5 491.6h3M290 489.6v4M298.5 440.0h3M300 438.0v4M308.5 472.5h3M310 470.5v4M318.5 495.7h3M320 493.7v4M328.5 514.2h3M330 512.2v4M338.5 456.7h3M340 454.7v4M348.5 518.9h3M350 516.9v4M358.5 511.5h3M360 509.5v4M368.5 493.4h3M370 491.4v4M378.5 442.0h3M380 440.0v4M388.5 501.1h3M390 499.1v4M398.5 481.5h3M400 479.5v4M408.5 510.8h3M410 508.8v4M418.5 505.1h3M420 503.1v4M428.5 530.0h3M430 528.0v4M438.5 498.7h3M440 496.7v4M448.5 445.9h3M450 443.9v4M458.5 486.6h3M460 484.6v4M468.5 515.1h3M470 513.1v4M478.5 523.6h3M480 521.6v4M488.5 465.3h3M490 463.3v4M498.5 461.1h3M500 459.1v4M508.5 503.6h3M510 501.6v4M518.5 540.0h3M520 538.0v4M528.5 538.4h3M530 536.4v4M538.5 442.0h3M540 440.0v4M548.5 480.0h3M550 478.0v4M558.5 433.0h3M560 431.0v4M568.5 424.0h3M570 422.0v4M578.5 470.0h3M580 468.0v4M588.5 540.0h3M590 538.0v4M598.5 514.2h3M600 512.2v4M608.5 533.3h3M610 531.3v4M618.5 495.1h3M620 493.1v4M628.5 528.0h3M630 526.0v4M638.5 543.0h3M640 541.0v4M648.5 523.3h3M650 521.3v4M658.5 531.1h3M660 529.1v4M668.5 506.1h3M670 504.1v4M678.5 511.4h3M680 509.4v4M688.5 534.0h3M690 532.0v4" stroke="#98F040" stroke-width="1" shape-rendering="crispEdges"/>
<path d="M50 536.0L60 482.3L70 509.8L80 518.1L90 537.8L100 506.2L110 515.3L120 462.0L130 473.8L140 452.0L150 475.0L160 502.4L170 504.5L180 512.0L190 536.0L200 526.2L210 513.8L220 479.9L230 507.2L240 536.0L250 539.5L260 499.4L270 507.8L280 520.5L290 488.7L300 453.2L310 501.9L320 470.5L330 462.0L340 430.0L350 494.7L360 537.0L370 540.0L380 477.0L390 511.7L400 540.0L410 514.5L420 480.8L430 480.9L440 476.0L450 441.0L460 486.9L470 480.9L480 518.4L490 499.8L500 490.5L510 500.9L520 505.7L530 511.1L540 474.0L550 473.8L560 499.9L570 505.6L580 514.9L590 520.9L600 520.7L610 512.6L620 464.0L630 462.7L640 494.5L650 511.3L660 519.0L670 519.3L680 512.4L690 530.5M48.5 536.0h3M50 534.0v4M58.5 482.3h3M60 480.3v4M68.5 509.8h3M70 507.8v4M78.5 518.1h3M80 516.1v4M88.5 537.8h3M90 535.8v4M98.5 506.2h3M100 504.2v4M108.5 515.3h3M110 513.3v4M118.5 462.0h3M120 460.0v4M128.5 473.8h3M130 471.8v4M138.5 452.0h3M140 450.0v4M148.5 475.0h3M150 473.0v4M158.5 502.4h3M160 500.4v4M168.5 504.5h3M170 502.5v4M178.5 512.0h3M180 510.0v4M188.5 536.0h3M190 534.0v4M198.5 526.2h3M200 524.2v4M208.5 513.8h3M210 511.8v4M218.5 479.9h3M220 477.9v4M228.5 507.2h3M230 505.2v4M238.5 536.0h3M240 534.0v4M248.5 539.5h3M250 537.5v4M258.5 499.4h3M260 497.4v4M268.5 507.8h3M270 505.8v4M278.5 520.5h3M280 518.5v4M288.5 488.7h3M290 486.7v4M298.5 453.2h3M300 451.2v4M308.5 501.9h3M310 499.9v4M318.5 470.5h3M320 468.5v4M328.5 462.0h3M330 460.0v4M338.5 430.0h3M340 428.0v4M348.5 494.7h3M350 492.7v4M358.5 537.0h3M360 535.0v4M368.5 540.0h3M370 538.0v4M378.5 477.0h3M380 475.0v4M388.5 511.7h3M390 509.7v4M398.5 540.0h3M400 538.0v4M408.5 514.5h3M410 512.5v4M418.5 480.8h3M420 478.8v4M428.5 480.9h3M430 478.9v4M438.5 476.0h3M440 474.0v4M448.5 441.0h3M450 439.0v4M458.5 486.9h3M460 484.9v4M468.5 480.9h3M470 478.9v4M478.5 518.4h3M480 516.4v4M488.5 499.8h3M490 497.8v4M498.5 490.5h3M500 488.5v4M508.5 500.9h3M510 498.9v4M518.5 505.7h3M520 503.7v4M528.5 511.1h3M530 509.1v4M538.5 474.0h3M540 472.0v4M548.5 473.8h3M550 471.8v4M558.5 499.9h3M560 497.9v4M568.5 505.6h3M570 503.6v4M578.5 514.9h3M580 512.9v4M588.5 520.9h3M590 518.9v4M598.5 520.7h3M600 518.7v4M608.5 512.6h3M610 510.6v4M618.5 464.0h3M620 462.0v4M628.5 462.7h3M630 460.7v4M638.5 494.5h3M640 492.5v4M648.5 511.3h3M650 509.3v4M658.5 519.0h3M660 517.0v4M668.5 519.3h3M670 517.3v4M678.5 512.4h3M680 510.4v4M688.5 530.5h3M690 528.5v4" stroke="#D078D0" stroke-width="1" shape-rendering="crispEdges"/>
<path d="M50 520.7L60 498.0L70 519.3L80 532.6L90 525.3L100 487.3L110 506.0L120 471.8L130 478.0L140 454.0L150 475.0L160 497.0L170 505.4L180 497.6L190 533.7L200 537.4L210 518.6L220 475.0L230 503.4L240 505.5L250 536.6L260 503.0L270 523.0L280 540.0L290 533.8L300 483.0L310 446.0L320 493.7L330 494.3L340 465.0L350 489.9L360 491.4L370 475.0L380 491.5L390 501.9L400 515.4L410 502.9L420 519.0L430 530.0L440 536.0L450 530.5L460 500.2L470 502.1L480 540.0L490 536.0L500 531.0L510 533.0L520 540.0L530 521.1L540 493.1L550 498.7L560 507.7L570 517.0L580 503.3L590 505.5L600 509.1L610 509.7L620 506.8L630 509.1L640 532.7L650 485.7L660 472.0L670 475.0L680 480.0L690 476.3M48.5 520.7h3M50 518.7v4M58.5 498.0h3M60 496.0v4M68.5 519.3h3M70 517.3v4M78.5 532.6h3M80 530.6v4M88.5 525.3h3M90 523.3v4M98.5 487.3h3M100 485.3v4M108.5 506.0h3M110 504.0v4M118.5 471.8h3M120 469.8v4M128.5 478.0h3M130 476.0v4M138.5 454.0h3M140 452.0v4M148.5 475.0h3M150 473.0v4M158.5 497.0h3M160 495.0v4M168.5 505.4h3M170 503.4v4M178.5 497.6h3M180 495.6v4M188.5 533.7h3M190 531.7v4M198.5 537.4h3M200 535.4v4M208.5 518.6h3M210 516.6v4M218.5 475.0h3M220 473.0v4M228.5 503.4h3M230 501.4v4M238.5 505.5h3M240 503.5v4M248.5 536.6h3M250 534.6v4M258.5 503.0h3M260 501.0v4M268.5 523.0h3M270 521.0v4M278.5 540.0h3M280 538.0v4M288.5 533.8h3M290 531.8v4M298.5 483.0h3M300 481.0v4M308.5 446.0h3M310 444.0v4M318.5 493.7h3M320 491.7v4M328.5 494.3h3M330 492.3v4M338.5 465.0h3M340 463.0v4M348.5 489.9h3M350 487.9v4M358.5 491.4h3M360 489.4v4M368.5 475.0h3M370 473.0v4M378.5 491.5h3M380 489.5v4M388.5 501.9h3M390 499.9v4M398.5 515.4h3M400 513.4v4M408.5 502.9h3M410 500.9v4M418.5 519.0h3M420 517.0v4M428.5 530.0h3M430 528.0v4M438.5 536.0h3M440 534.0v4M448.5 530.5h3M450 528.5v4M458.5 500.2h3M460 498.2v4M468.5 502.1h3M470 500.1v4M478.5 540.0h3M480 538.0v4M488.5 536.0h3M490 534.0v4M498.5 531.0h3M500 529.0v4M508.5 533.0h3M510 531.0v4M518.5 540.0h3M520 538.0v4M528.5 521.1h3M530 519.1v4M538.5 493.1h3M540 491.1v4M548.5 498.7h3M550 496.7v4M558.5 507.7h3M560 505.7v4M568.5 517.0h3M570 515.0v4M578.5 503.3h3M580 501.3v4M588.5 505.5h3M590 503.5v4M598.5 509.1h3M600 507.1v4M608.5 509.7h3M610 507.7v4M618.5 506.8h3M620 504.8v4M628.5 509.1h3M630 507.1v4M638.5 532.7h3M640 530.7v4M648.5 485.7h3M650 483.7v4M658.5 472.0h3M660 470.0v4M668.5 475.0h3M670 473.0v4M678.5 480.0h3M680 478.0v4M688.5 476.3h3M690 474.3v4" stroke="#2008A0" stroke-width="1" shape-rendering="crispEdges"/>
<path d="M50 527.1L60 478.0L70 506.0L80 512.5L90 527.8L100 503.1L110 510.3L120 466.9L130 471.1L140 446.3L150 465.8L160 486.0L170 498.4L180 493.3L190 535.2L200 519.2L210 511.0L220 486.9L230 495.7L240 510.7L250 509.7L260 479.1L270 506.7L280 514.6L290 494.6L300 475.7L310 446.5L320 457.0L330 456.0L340 425.0L350 445.0L360 491.7L370 517.7L380 501.3L390 503.0L400 506.4L410 484.1L420 519.0L430 460.4L440 446.0L450 459.0L460 470.9L470 480.3L480 497.6L490 503.7L500 495.2L510 520.0L520 519.7L530 516.1L540 492.3L550 511.2L560 515.7L570 503.5L580 487.9L590 519.2L600 510.5L610 493.4L620 488.7L630 500.9L640 522.1L650 518.0L660 493.7L670 488.0L680 506.8L690 518.1M48.5 527.1h3M50 525.1v4M58.5 478.0h3M60 476.0v4M68.5 506.0h3M70 504.0v4M78.5 512.5h3M80 510.5v4M88.5 527.8h3M90 525.8v4M98.5 503.1h3M100 501.1v4M108.5 510.3h3M110 508.3v4M118.5 466.9h3M120 464.9v4M128.5 471.1h3M130 469.1v4M138.5 446.3h3M140 444.3v4M148.5 465.8h3M150 463.8v4M158.5 486.0h3M160 484.0v4M168.5 498.4h3M170 496.4v4M178.5 493.3h3M180 491.3v4M188.5 535.2h3M190 533.2v4M198.5 519.2h3M200 517.2v4M208.5 511.0h3M210 509.0v4M218.5 486.9h3M220 484.9v4M228.5 495.7h3M230 493.7v4M238.5 510.7h3M240 508.7v4M248.5 509.7h3M250 507.7v4M258.5 479.1h3M260 477.1v4M268.5 506.7h3M270 504.7v4M278.5 514.6h3M280 512.6v4M288.5 494.6h3M290 492.6v4M298.5 475.7h3M300 473.7v4M308.5 446.5h3M310 444.5v4M318.5 457.0h3M320 455.0v4M328.5 456.0h3M330 454.0v4M338.5 425.0h3M340 423.0v4M348.5 445.0h3M350 443.0v4M358.5 491.7h3M360 489.7v4M368.5 517.7h3M370 515.7v4M378.5 501.3h3M380 499.3v4M388.5 503.0h3M390 501.0v4M398.5 506.4h3M400 504.4v4M408.5 484.1h3M410 482.1v4M418.5 519.0h3M420 517.0v4M428.5 460.4h3M430 458.4v4M438.5 446.0h3M440 444.0v4M448.5 459.0h3M450 457.0v4M458.5 470.9h3M460 468.9v4M468.5 480.3h3M470 478.3v4M478.5 497.6h3M480 495.6v4M488.5 503.7h3M490 501.7v4M498.5 495.2h3M500 493.2v4M508.5 520.0h3M510 518.0v4M518.5 519.7h3M520 517.7v4M528.5 516.1h3M530 514.1v4M538.5 492.3h3M540 490.3v4M548.5 511.2h3M550 509.2v4M558.5 515.7h3M560 513.7v4M568.5 503.5h3M570 501.5v4M578.5 487.9h3M580 485.9v4M588.5 519.2h3M590 517.2v4M598.5 510.5h3M600 508.5v4M608.5 493.4h3M610 491.4v4M618.5 488.7h3M620 486.7v4M628.5 500.9h3M630 498.9v4M638.5 522.1h3M640 520.1v4M648.5 518.0h3M650 516.0v4M658.5 493.7h3M660 491.7v4M668.5 488.0h3M670 486.0v4M678.5 506.8h3M680 504.8v4M688.5 518.1h3M690 516.1v4" stroke="#E0C8A0" stroke-width="1" shape-rendering="crispEdges"/>
<path d="M50 533.7L60 495.7L70 517.5L80 527.2L90 536.1L100 510.0L110 510.9L120 485.6L130 468.8L140 439.2L150 459.6L160 498.9L170 510.7L180 500.0L190 516.4L200 533.9L210 523.3L220 513.5L230 518.8L240 529.4L250 515.6L260 489.4L270 499.0L280 524.5L290 505.6L300 440.0L310 476.9L320 488.6L330 511.7L340 418.0L350 455.4L360 494.2L370 528.7L380 442.0L390 467.6L400 466.8L410 470.0L420 422.0L430 428.5L440 470.0L450 521.9L460 481.1L470 457.9L480 473.9L490 473.1L500 490.6L510 524.5L520 526.5L530 523.1L540 502.5L550 492.8L560 510.0L570 501.4L580 489.9L590 497.5L600 483.1L610 489.3L620 493.9L630 501.5L640 526.8L650 498.5L660 494.0L670 525.2L680 530.1L690 523.8M48.5 533.7h3M50 531.7v4M58.5 495.7h3M60 493.7v4M68.5 517.5h3M70 515.5v4M78.5 527.2h3M80 525.2v4M88.5 536.1h3M90 534.1v4M98.5 510.0h3M100 508.0v4M108.5 510.9h3M110 508.9v4M118.5 485.6h3M120 483.6v4M128.5 468.8h3M130 466.8v4M138.5 439.2h3M140 437.2v4M148.5 459.6h3M150 457.6v4M158.5 498.9h3M160 496.9v4M168.5 510.7h3M170 508.7v4M178.5 500.0h3M180 498.0v4M188.5 516.4h3M190 514.4v4M198.5 533.9h3M200 531.9v4M208.5 523.3h3M210 521.3v4M218.5 513.5h3M220 511.5v4M228.5 518.8h3M230 516.8v4M238.5 529.4h3M240 527.4v4M248.5 515.6h3M250 513.6v4M258.5 489.4h3M260 487.4v4M268.5 499.0h3M270 497.0v4M278.5 524.5h3M280 522.5v4M288.5 505.6h3M290 503.6v4M298.5 440.0h3M300 438.0v4M308.5 476.9h3M310 474.9v4M318.5 488.6h3M320 486.6v4M328.5 511.7h3M330 509.7v4M338.5 418.0h3M340 416.0v4M348.5 455.4h3M350 453.4v4M358.5 494.2h3M360 492.2v4M368.5 528.7h3M370 526.7v4M378.5 442.0h3M380 440.0v4M388.5 467.6h3M390 465.6v4M398.5 466.8h3M400 464.8v4M408.5 470.0h3M410 468.0v4M418.5 422.0h3M420 420.0v4M428.5 428.5h3M430 426.5v4M438.5 470.0h3M440 468.0v4M448.5 521.9h3M450 519.9v4M458.5 481.1h3M460 479.1v4M468.5 457.9h3M470 455.9v4M478.5 473.9h3M480 471.9v4M488.5 473.1h3M490 471.1v4M498.5 490.6h3M500 488.6v4M508.5 524.5h3M510 522.5v4M518.5 526.5h3M520 524.5v4M528.5 523.1h3M530 521.1v4M538.5 502.5h3M540 500.5v4M548.5 492.8h3M550 490.8v4M558.5 510.0h3M560 508.0v4M568.5 501.4h3M570 499.4v4M578.5 489.9h3M580 487.9v4M588.5 497.5h3M590 495.5v4M598.5 483.1h3M600 481.1v4M608.5 489.3h3M610 487.3v4M618.5 493.9h3M620 491.9v4M628.5 501.5h3M630 499.5v4M638.5 526.8h3M640 524.8v4M648.5 498.5h3M650 496.5v4M658.5 494.0h3M660 492.0v4M668.5 525.2h3M670 523.2v4M678.5 530.1h3M680 528.1v4M688.5 523.8h3M690 521.8v4" stroke="#880810" stroke-width="1" shape-rendering="crispEdges"/>
<path d="M50 534.6L60 487.8L70 513.1L80 538.3L90 527.7L100 492.6L110 503.8L120 475.2L130 461.1L140 453.2L150 475.0L160 481.8L170 488.4L180 487.4L190 520.3L200 515.4L210 540.0L220 513.4L230 510.0L240 515.0L250 531.2L260 503.0L270 496.1L280 514.5L290 520.4L300 471.8L310 466.9L320 540.0L330 491.3L340 448.2L350 528.0L360 508.2L370 540.0L380 470.5L390 479.7L400 458.0L410 483.6L420 474.9L430 466.9L440 506.1L450 515.2L460 501.5L470 500.6L480 531.6L490 504.3L500 487.9L510 501.6L520 494.0L530 510.6L540 468.3L550 445.0L560 498.5L570 537.3L580 504.0L590 505.7L600 520.8L610 524.2L620 514.9L630 517.5L640 543.0L650 540.0L660 534.0L670 527.8L680 538.0L690 525.2M48.5 534.6h3M50 532.6v4M58.5 487.8h3M60 485.8v4M68.5 513.1h3M70 511.1v4M78.5 538.3h3M80 536.3v4M88.5 527.7h3M90 525.7v4M98.5 492.6h3M100 490.6v4M108.5 503.8h3M110 501.8v4M118.5 475.2h3M120 473.2v4M128.5 461.1h3M130 459.1v4M138.5 453.2h3M140 451.2v4M148.5 475.0h3M150 473.0v4M158.5 481.8h3M160 479.8v4M168.5 488.4h3M170 486.4v4M178.5 487.4h3M180 485.4v4M188.5 520.3h3M190 518.3v4M198.5 515.4h3M200 513.4v4M208.5 540.0h3M210 538.0v4M218.5 513.4h3M220 511.4v4M228.5 510.0h3M230 508.0v4M238.5 515.0h3M240 513.0v4M248.5 531.2h3M250 529.2v4M258.5 503.0h3M260 501.0v4M268.5 496.1h3M270 494.1v4M278.5 514.5h3M280 512.5v4M288.5 520.4h3M290 518.4v4M298.5 471.8h3M300 469.8v4M308.5 466.9h3M310 464.9v4M318.5 540.0h3M320 538.0v4M328.5 491.3h3M330 489.3v4M338.5 448.2h3M340 446.2v4M348.5 528.0h3M350 526.0v4M358.5 508.2h3M360 506.2v4M368.5 540.0h3M370 538.0v4M378.5 470.5h3M380 468.5v4M388.5 479.7h3M390 477.7v4M398.5 458.0h3M400 456.0v4M408.5 483.6h3M410 481.6v4M418.5 474.9h3M420 472.9v4M428.5 466.9h3M430 464.9v4M438.5 506.1h3M440 504.1v4M448.5 515.2h3M450 513.2v4M458.5 501.5h3M460 499.5v4M468.5 500.6h3M470 498.6v4M478.5 531.6h3M480 529.6v4M488.5 504.3h3M490 502.3v4M498.5 487.9h3M500 485.9v4M508.5 501.6h3M510 499.6v4M518.5 494.0h3M520 492.0v4M528.5 510.6h3M530 508.6v4M538.5 468.3h3M540 466.3v4M548.5 445.0h3M550 443.0v4M558.5 498.5h3M560 496.5v4M568.5 537.3h3M570 535.3v4M578.5 504.0h3M580 502.0v4M588.5 505.7h3M590 503.7v4M598.5 520.8h3M600 518.8v4M608.5 524.2h3M610 522.2v4M618.5 514.9h3M620 512.9v4M628.5 517.5h3M630 515.5v4M638.5 543.0h3M640 541.0v4M648.5 540.0h3M650 538.0v4M658.5 534.0h3M660 532.0v4M668.5 527.8h3M670 525.8v4M678.5 538.0h3M680 536.0v4M688.5 525.2h3M690 523.2v4" stroke="#0838B8" stroke-width="1" shape-rendering="crispEdges"/>
<path d="M50 530.4L60 487.9L70 513.9L80 529.6L90 524.0L100 490.3L110 509.1L120 473.8L130 463.5L140 439.4L150 458.0L160 482.4L170 500.5L180 491.0L190 516.2L200 525.6L210 528.8L220 494.2L230 510.7L240 524.0L250 524.0L260 485.6L270 502.9L280 517.8L290 511.5L300 468.3L310 484.0L320 500.5L330 495.0L340 467.5L350 486.5L360 510.7L370 513.0L380 478.5L390 497.4L400 502.9L410 502.0L420 481.6L430 494.2L440 506.0L450 500.0L460 487.0L470 492.6L480 508.4L490 504.4L500 494.2L510 505.2L520 517.0L530 514.6L540 494.2L550 497.0L560 510.0L570 502.0L580 493.4L590 498.0L600 510.7L610 507.6L620 497.4L630 501.5L640 514.3L650 510.0L660 499.0L670 506.8L680 511.5L690 512.3" stroke="#ff0000" stroke-width="2.4"/>
</g>
<polygon points="24,539 34,565 50,565" fill="#0000ff"/>
<polygon points="67,588 80,566 85,562.4 92,562.4 93.5,565 92,570 90,574.5" fill="#0000ff"/>
<polygon points="129,518 130.5,530 135,555 134,562 130,565 128.5,565" fill="#0000ff"/>
<polygon points="169,525 173,535 180,555 170,565 168,565 167.5,545" fill="#0000ff"/>
<polygon points="210,551 217,556 214,566 210,573 206,570 199,564 204,557" fill="#0000ff"/>
<polygon points="249.5,547 260,556 259,564 251,570 245,562" fill="#0000ff"/>
<polygon points="289,538 292,538 302,554 291,566 286,556" fill="#0000ff"/>
<polygon points="330,546 349,546 331,566 327,565" fill="#0000ff"/>
<polygon points="369,547 381,554 374,566 370,569 363,562" fill="#0000ff"/>
<polygon points="409.5,547 424,552 413,566 410,570 405,566" fill="#0000ff"/>
<polygon points="436,565 447,557 463,552 452,569 442,568" fill="#0000ff"/>
<polygon points="476,564 490,547 502,554 493,565 490,569" fill="#0000ff"/>
<polygon points="520,557 529,550 541,555 534,566 529,570 520,563" fill="#0000ff"/>
<polygon points="552,565 581,554 574,564 569,570 562,568" fill="#0000ff"/>
<polygon points="591,565 599,554 610,554 621,559 610,570 600,567" fill="#0000ff"/>
<polygon points="635,552 650,559 662,554 651,570 637,565" fill="#0000ff"/>
<polygon points="671,565 678,554 691,553 696,560 691,567" fill="#0000ff"/>
<path d="M35 565.5H66M50.5 550V581M39.4 554.4L61.6 576.6M39.4 576.6L61.6 554.4M75 565.5H106M90.5 550V581M79.4 554.4L101.6 576.6M79.4 576.6L101.6 554.4M115 565.5H146M130.5 550V581M119.4 554.4L141.6 576.6M119.4 576.6L141.6 554.4M155 565.5H186M170.5 550V581M159.4 554.4L181.6 576.6M159.4 576.6L181.6 554.4M195 565.5H226M210.5 550V581M199.4 554.4L221.6 576.6M199.4 576.6L221.6 554.4M235 565.5H266M250.5 550V581M239.4 554.4L261.6 576.6M239.4 576.6L261.6 554.4M275 565.5H306M290.5 550V581M279.4 554.4L301.6 576.6M279.4 576.6L301.6 554.4M315 565.5H346M330.5 550V581M319.4 554.4L341.6 576.6M319.4 576.6L341.6 554.4M355 565.5H386M370.5 550V581M359.4 554.4L381.6 576.6M359.4 576.6L381.6 554.4M395 565.5H426M410.5 550V581M399.4 554.4L421.6 576.6M399.4 576.6L421.6 554.4M435 565.5H466M450.5 550V581M439.4 554.4L461.6 576.6M439.4 576.6L461.6 554.4M475 565.5H506M490.5 550V581M479.4 554.4L501.6 576.6M479.4 576.6L501.6 554.4M515 565.5H546M530.5 550V581M519.4 554.4L541.6 576.6M519.4 576.6L541.6 554.4M555 565.5H586M570.5 550V581M559.4 554.4L581.6 576.6M559.4 576.6L581.6 554.4M595 565.5H626M610.5 550V581M599.4 554.4L621.6 576.6M599.4 576.6L621.6 554.4M635 565.5H666M650.5 550V581M639.4 554.4L661.6 576.6M639.4 576.6L661.6 554.4M675 565.5H706M690.5 550V581M679.4 554.4L701.6 576.6M679.4 576.6L701.6 554.4" stroke="#000" stroke-width="1" fill="none"/>
<text transform="translate(20,27) scale(0.8333,1)" font-size="12" fill="#000" style="white-space:pre"><tspan x="0.00">15</tspan><tspan x="14.66" font-family="'Liberation Sans', sans-serif">0</tspan></text>
<text transform="translate(710,27) scale(0.8333,1)" font-size="12" fill="#000" style="white-space:pre"><tspan x="0.00">15</tspan><tspan x="14.66" font-family="'Liberation Sans', sans-serif">0</tspan></text>
<text transform="translate(20,62) scale(0.8333,1)" font-size="12" fill="#000" style="white-space:pre"><tspan x="0.00">14</tspan><tspan x="14.66" font-family="'Liberation Sans', sans-serif">0</tspan></text>
<text transform="translate(710,62) scale(0.8333,1)" font-size="12" fill="#000" style="white-space:pre"><tspan x="0.00">14</tspan><tspan x="14.66" font-family="'Liberation Sans', sans-serif">0</tspan></text>
<text transform="translate(20,97) scale(0.8333,1)" font-size="12" fill="#000" style="white-space:pre"><tspan x="0.00">13</tspan><tspan x="14.66" font-family="'Liberation Sans', sans-serif">0</tspan></text>
<text transform="translate(710,97) scale(0.8333,1)" font-size="12" fill="#000" style="white-space:pre"><tspan x="0.00">13</tspan><tspan x="14.66" font-family="'Liberation Sans', sans-serif">0</tspan></text>
<text transform="translate(20,132) scale(0.8333,1)" font-size="12" fill="#000" style="white-space:pre"><tspan x="0.00">12</tspan><tspan x="14.66" font-family="'Liberation Sans', sans-serif">0</tspan></text>
<text transform="translate(710,132) scale(0.8333,1)" font-size="12" fill="#000" style="white-space:pre"><tspan x="0.00">12</tspan><tspan x="14.66" font-family="'Liberation Sans', sans-serif">0</tspan></text>
<text transform="translate(20,167) scale(0.8333,1)" font-size="12" fill="#000" style="white-space:pre"><tspan x="0.00">11</tspan><tspan x="14.66" font-family="'Liberation Sans', sans-serif">0</tspan></text>
<text transform="translate(710,167) scale(0.8333,1)" font-size="12" fill="#000" style="white-space:pre"><tspan x="0.00">11</tspan><tspan x="14.66" font-family="'Liberation Sans', sans-serif">0</tspan></text>
<text transform="translate(20,202) scale(0.8333,1)" font-size="12" fill="#000" style="white-space:pre"><tspan x="0.00">1</tspan><tspan x="7.46 14.66" font-family="'Liberation Sans', sans-serif">00</tspan></text>
<text transform="translate(710,202) scale(0.8333,1)" font-size="12" fill="#000" style="white-space:pre"><tspan x="0.00">1</tspan><tspan x="7.46 14.66" font-family="'Liberation Sans', sans-serif">00</tspan></text>
<text transform="translate(20,237) scale(0.8333,1)" font-size="12" fill="#000" style="white-space:pre"><tspan x="0.00">9</tspan><tspan x="7.46" font-family="'Liberation Sans', sans-serif">0</tspan></text>
<text transform="translate(710,237) scale(0.8333,1)" font-size="12" fill="#000" style="white-space:pre"><tspan x="0.00">9</tspan><tspan x="7.46" font-family="'Liberation Sans', sans-serif">0</tspan></text>
<text transform="translate(20,272) scale(0.8333,1)" font-size="12" fill="#000" style="white-space:pre"><tspan x="0.00">8</tspan><tspan x="7.46" font-family="'Liberation Sans', sans-serif">0</tspan></text>
<text transform="translate(710,272) scale(0.8333,1)" font-size="12" fill="#000" style="white-space:pre"><tspan x="0.00">8</tspan><tspan x="7.46" font-family="'Liberation Sans', sans-serif">0</tspan></text>
<text transform="translate(20,307) scale(0.8333,1)" font-size="12" fill="#000" style="white-space:pre"><tspan x="0.00">7</tspan><tspan x="7.46" font-family="'Liberation Sans', sans-serif">0</tspan></text>
<text transform="translate(710,307) scale(0.8333,1)" font-size="12" fill="#000" style="white-space:pre"><tspan x="0.00">7</tspan><tspan x="7.46" font-family="'Liberation Sans', sans-serif">0</tspan></text>
<text transform="translate(20,342) scale(0.8333,1)" font-size="12" fill="#000" style="white-space:pre"><tspan x="0.00">6</tspan><tspan x="7.46" font-family="'Liberation Sans', sans-serif">0</tspan></text>
<text transform="translate(710,342) scale(0.8333,1)" font-size="12" fill="#000" style="white-space:pre"><tspan x="0.00">6</tspan><tspan x="7.46" font-family="'Liberation Sans', sans-serif">0</tspan></text>
<text transform="translate(20,377) scale(0.8333,1)" font-size="12" fill="#000" style="white-space:pre"><tspan x="0.00">5</tspan><tspan x="7.46" font-family="'Liberation Sans', sans-serif">0</tspan></text>
<text transform="translate(710,377) scale(0.8333,1)" font-size="12" fill="#000" style="white-space:pre"><tspan x="0.00">5</tspan><tspan x="7.46" font-family="'Liberation Sans', sans-serif">0</tspan></text>
<text transform="translate(20,412) scale(0.8333,1)" font-size="12" fill="#000" style="white-space:pre"><tspan x="0.00">4</tspan><tspan x="7.46" font-family="'Liberation Sans', sans-serif">0</tspan></text>
<text transform="translate(710,412) scale(0.8333,1)" font-size="12" fill="#000" style="white-space:pre"><tspan x="0.00">4</tspan><tspan x="7.46" font-family="'Liberation Sans', sans-serif">0</tspan></text>
<text transform="translate(20,447) scale(0.8333,1)" font-size="12" fill="#000" style="white-space:pre"><tspan x="0.00">3</tspan><tspan x="7.46" font-family="'Liberation Sans', sans-serif">0</tspan></text>
<text transform="translate(710,447) scale(0.8333,1)" font-size="12" fill="#000" style="white-space:pre"><tspan x="0.00">3</tspan><tspan x="7.46" font-family="'Liberation Sans', sans-serif">0</tspan></text>
<text transform="translate(20,482) scale(0.8333,1)" font-size="12" fill="#000" style="white-space:pre"><tspan x="0.00">2</tspan><tspan x="7.46" font-family="'Liberation Sans', sans-serif">0</tspan></text>
<text transform="translate(710,482) scale(0.8333,1)" font-size="12" fill="#000" style="white-space:pre"><tspan x="0.00">2</tspan><tspan x="7.46" font-family="'Liberation Sans', sans-serif">0</tspan></text>
<text transform="translate(20,517) scale(0.8333,1)" font-size="12" fill="#000" style="white-space:pre"><tspan x="0.00">1</tspan><tspan x="7.46" font-family="'Liberation Sans', sans-serif">0</tspan></text>
<text transform="translate(710,517) scale(0.8333,1)" font-size="12" fill="#000" style="white-space:pre"><tspan x="0.00">1</tspan><tspan x="7.46" font-family="'Liberation Sans', sans-serif">0</tspan></text>
<text transform="translate(20,552) scale(0.8333,1)" font-size="12" fill="#000" style="white-space:pre"><tspan x="0.26" font-family="'Liberation Sans', sans-serif">0</tspan></text>
<text transform="translate(710,552) scale(0.8333,1)" font-size="12" fill="#000" style="white-space:pre"><tspan x="0.26" font-family="'Liberation Sans', sans-serif">0</tspan></text>
<text transform="translate(20,611) scale(0.8333,1)" font-size="12" fill="#000" style="white-space:pre"><tspan x="0.00">(km/h)</tspan></text>
<text transform="translate(711,611) scale(0.8333,1)" font-size="12" fill="#000" style="white-space:pre"><tspan x="0.00">(km/h)</tspan></text>
<text transform="translate(60,414) scale(0.8333,1)" font-size="12" fill="#000" style="white-space:pre"><tspan x="0.00">Vent moyen 1</tspan><tspan x="86.66" font-family="'Liberation Sans', sans-serif">0</tspan><tspan x="93.60">m</tspan></text>
<text transform="translate(88.6,548.8) scale(1.0000,1)" font-size="8.5" font-weight="bold" fill="#000" style="white-space:pre"><tspan x="0.00">N</tspan></text>
<text transform="translate(88.6,588.7) scale(1.0000,1)" font-size="8.5" font-weight="bold" fill="#000" style="white-space:pre"><tspan x="0.00">S</tspan></text>
<text transform="translate(72.6,570) scale(1.0000,1)" font-size="8.5" font-weight="bold" fill="#000" style="white-space:pre"><tspan x="0.00">W</tspan></text>
<text transform="translate(106.4,570) scale(1.0000,1)" font-size="8.5" font-weight="bold" fill="#000" style="white-space:pre"><tspan x="0.00">E</tspan></text>
<text transform="translate(91.5,632) rotate(-90) scale(0.8333,1)" font-size="12" fill="#000" style="white-space:pre"><tspan x="0.00">22/</tspan><tspan x="21.86" font-family="'Liberation Sans', sans-serif">0</tspan><tspan x="28.80">4</tspan></text>
<text transform="translate(131.5,632) rotate(-90) scale(0.8333,1)" font-size="12" fill="#000" style="white-space:pre"><tspan x="0.00">23/</tspan><tspan x="21.86" font-family="'Liberation Sans', sans-serif">0</tspan><tspan x="28.80">4</tspan></text>
<text transform="translate(171.5,632) rotate(-90) scale(0.8333,1)" font-size="12" fill="#000" style="white-space:pre"><tspan x="0.00">24/</tspan><tspan x="21.86" font-family="'Liberation Sans', sans-serif">0</tspan><tspan x="28.80">4</tspan></text>
<text transform="translate(211.5,632) rotate(-90) scale(0.8333,1)" font-size="12" fill="#000" style="white-space:pre"><tspan x="0.00">25/</tspan><tspan x="21.86" font-family="'Liberation Sans', sans-serif">0</tspan><tspan x="28.80">4</tspan></text>
<text transform="translate(251.5,632) rotate(-90) scale(0.8333,1)" font-size="12" fill="#000" style="white-space:pre"><tspan x="0.00">26/</tspan><tspan x="21.86" font-family="'Liberation Sans', sans-serif">0</tspan><tspan x="28.80">4</tspan></text>
<text transform="translate(291.5,632) rotate(-90) scale(0.8333,1)" font-size="12" fill="#000" style="white-space:pre"><tspan x="0.00">27/</tspan><tspan x="21.86" font-family="'Liberation Sans', sans-serif">0</tspan><tspan x="28.80">4</tspan></text>
<text transform="translate(331.5,632) rotate(-90) scale(0.8333,1)" font-size="12" fill="#000" style="white-space:pre"><tspan x="0.00">28/</tspan><tspan x="21.86" font-family="'Liberation Sans', sans-serif">0</tspan><tspan x="28.80">4</tspan></text>
<text transform="translate(371.5,632) rotate(-90) scale(0.8333,1)" font-size="12" fill="#000" style="white-space:pre"><tspan x="0.00">29/</tspan><tspan x="21.86" font-family="'Liberation Sans', sans-serif">0</tspan><tspan x="28.80">4</tspan></text>
<text transform="translate(411.5,632) rotate(-90) scale(0.8333,1)" font-size="12" fill="#000" style="white-space:pre"><tspan x="0.00">3</tspan><tspan x="7.46" font-family="'Liberation Sans', sans-serif">0</tspan><tspan x="14.40">/</tspan><tspan x="21.86" font-family="'Liberation Sans', sans-serif">0</tspan><tspan x="28.80">4</tspan></text>
<text transform="translate(451.5,632) rotate(-90) scale(0.8333,1)" font-size="12" fill="#000" style="white-space:pre"><tspan x="0.26" font-family="'Liberation Sans', sans-serif">0</tspan><tspan x="7.20">1/</tspan><tspan x="21.86" font-family="'Liberation Sans', sans-serif">0</tspan><tspan x="28.80">5</tspan></text>
<text transform="translate(491.5,632) rotate(-90) scale(0.8333,1)" font-size="12" fill="#000" style="white-space:pre"><tspan x="0.26" font-family="'Liberation Sans', sans-serif">0</tspan><tspan x="7.20">2/</tspan><tspan x="21.86" font-family="'Liberation Sans', sans-serif">0</tspan><tspan x="28.80">5</tspan></text>
<text transform="translate(531.5,632) rotate(-90) scale(0.8333,1)" font-size="12" fill="#000" style="white-space:pre"><tspan x="0.26" font-family="'Liberation Sans', sans-serif">0</tspan><tspan x="7.20">3/</tspan><tspan x="21.86" font-family="'Liberation Sans', sans-serif">0</tspan><tspan x="28.80">5</tspan></text>
<text transform="translate(571.5,632) rotate(-90) scale(0.8333,1)" font-size="12" fill="#000" style="white-space:pre"><tspan x="0.26" font-family="'Liberation Sans', sans-serif">0</tspan><tspan x="7.20">4/</tspan><tspan x="21.86" font-family="'Liberation Sans', sans-serif">0</tspan><tspan x="28.80">5</tspan></text>
<text transform="translate(611.5,632) rotate(-90) scale(0.8333,1)" font-size="12" fill="#000" style="white-space:pre"><tspan x="0.26" font-family="'Liberation Sans', sans-serif">0</tspan><tspan x="7.20">5/</tspan><tspan x="21.86" font-family="'Liberation Sans', sans-serif">0</tspan><tspan x="28.80">5</tspan></text>
<text transform="translate(651.5,632) rotate(-90) scale(0.8333,1)" font-size="12" fill="#000" style="white-space:pre"><tspan x="0.26" font-family="'Liberation Sans', sans-serif">0</tspan><tspan x="7.20">6/</tspan><tspan x="21.86" font-family="'Liberation Sans', sans-serif">0</tspan><tspan x="28.80">5</tspan></text>
<text transform="translate(691.5,632) rotate(-90) scale(0.8333,1)" font-size="12" fill="#000" style="white-space:pre"><tspan x="0.26" font-family="'Liberation Sans', sans-serif">0</tspan><tspan x="7.20">7/</tspan><tspan x="21.86" font-family="'Liberation Sans', sans-serif">0</tspan><tspan x="28.80">5</tspan></text>
<rect x="35" y="630" width="31" height="4" fill="#ff0000"/>
<rect x="225" y="635" width="31" height="4" fill="#0000ff"/>
<rect x="225" y="645" width="31" height="4" fill="#000"/>
<text transform="translate(75,641) scale(0.8333,1)" font-size="12" fill="#000" style="white-space:pre"><tspan x="0.00">Moyenne des scénarios</tspan></text>
<text transform="translate(265,641) scale(0.8333,1)" font-size="12" fill="#000" style="white-space:pre"><tspan x="0.00">Run de contrôle</tspan></text>
<text transform="translate(265,650.5) scale(0.8333,1)" font-size="12" fill="#000" style="white-space:pre"><tspan x="0.00">Run GFS</tspan></text>
<text transform="translate(339.5,656.5) scale(0.8333,1)" font-size="12" fill="#000" style="white-space:pre"><tspan x="0.00">3</tspan><tspan x="7.46" font-family="'Liberation Sans', sans-serif">0</tspan><tspan x="14.40"> Perts.</tspan></text>
<text transform="translate(179.5,663) scale(0.8333,1)" font-size="12" fill="#000" style="white-space:pre"><tspan x="0.00">Altitude du modele : 56m</tspan></text>
<rect x="400" y="650" width="10" height="6" fill="#E8813A"/>
<text transform="translate(400.5,647) scale(0.8889,1)" font-size="9" font-weight="bold" fill="#000" style="white-space:pre"><tspan x="0.20" font-family="'Liberation Sans', sans-serif">0</tspan><tspan x="5.40">1</tspan></text>
<rect x="411" y="650" width="10" height="6" fill="#82C46C"/>
<text transform="translate(411.5,647) scale(0.8889,1)" font-size="9" font-weight="bold" fill="#000" style="white-space:pre"><tspan x="0.20" font-family="'Liberation Sans', sans-serif">0</tspan><tspan x="5.40">2</tspan></text>
<rect x="422" y="650" width="10" height="6" fill="#F0C010"/>
<text transform="translate(422.5,647) scale(0.8889,1)" font-size="9" font-weight="bold" fill="#000" style="white-space:pre"><tspan x="0.20" font-family="'Liberation Sans', sans-serif">0</tspan><tspan x="5.40">3</tspan></text>
<rect x="433" y="650" width="10" height="6" fill="#9050B8"/>
<text transform="translate(433.5,647) scale(0.8889,1)" font-size="9" font-weight="bold" fill="#000" style="white-space:pre"><tspan x="0.20" font-family="'Liberation Sans', sans-serif">0</tspan><tspan x="5.40">4</tspan></text>
<rect x="444" y="650" width="10" height="6" fill="#B05010"/>
<text transform="translate(444.5,647) scale(0.8889,1)" font-size="9" font-weight="bold" fill="#000" style="white-space:pre"><tspan x="0.20" font-family="'Liberation Sans', sans-serif">0</tspan><tspan x="5.40">5</tspan></text>
<rect x="455" y="650" width="10" height="6" fill="#508010"/>
<text transform="translate(455.5,647) scale(0.8889,1)" font-size="9" font-weight="bold" fill="#000" style="white-space:pre"><tspan x="0.20" font-family="'Liberation Sans', sans-serif">0</tspan><tspan x="5.40">6</tspan></text>
<rect x="466" y="650" width="10" height="6" fill="#1080F0"/>
<text transform="translate(466.5,647) scale(0.8889,1)" font-size="9" font-weight="bold" fill="#000" style="white-space:pre"><tspan x="0.20" font-family="'Liberation Sans', sans-serif">0</tspan><tspan x="5.40">7</tspan></text>
<rect x="477" y="650" width="10" height="6" fill="#E8D8B0"/>
<text transform="translate(477.5,647) scale(0.8889,1)" font-size="9" font-weight="bold" fill="#000" style="white-space:pre"><tspan x="0.20" font-family="'Liberation Sans', sans-serif">0</tspan><tspan x="5.40">8</tspan></text>
<rect x="488" y="650" width="10" height="6" fill="#3888B8"/>
<text transform="translate(488.5,647) scale(0.8889,1)" font-size="9" font-weight="bold" fill="#000" style="white-space:pre"><tspan x="0.20" font-family="'Liberation Sans', sans-serif">0</tspan><tspan x="5.40">9</tspan></text>
<rect x="499" y="650" width="10" height="6" fill="#E8A858"/>
<text transform="translate(499.5,647) scale(0.8889,1)" font-size="9" font-weight="bold" fill="#000" style="white-space:pre"><tspan x="0.00">1</tspan><tspan x="5.60" font-family="'Liberation Sans', sans-serif">0</tspan></text>
<rect x="510" y="650" width="10" height="6" fill="#605020"/>
<text transform="translate(510.5,647) scale(0.8889,1)" font-size="9" font-weight="bold" fill="#000" style="white-space:pre"><tspan x="0.00">11</tspan></text>
<rect x="521" y="650" width="10" height="6" fill="#F06820"/>
<text transform="translate(521.5,647) scale(0.8889,1)" font-size="9" font-weight="bold" fill="#000" style="white-space:pre"><tspan x="0.00">12</tspan></text>
<rect x="532" y="650" width="10" height="6" fill="#D0C078"/>
<text transform="translate(532.5,647) scale(0.8889,1)" font-size="9" font-weight="bold" fill="#000" style="white-space:pre"><tspan x="0.00">13</tspan></text>
<rect x="543" y="650" width="10" height="6" fill="#10D050"/>
<text transform="translate(543.5,647) scale(0.8889,1)" font-size="9" font-weight="bold" fill="#000" style="white-space:pre"><tspan x="0.00">14</tspan></text>
<rect x="554" y="650" width="10" height="6" fill="#204060"/>
<text transform="translate(554.5,647) scale(0.8889,1)" font-size="9" font-weight="bold" fill="#000" style="white-space:pre"><tspan x="0.00">15</tspan></text>
<rect x="565" y="650" width="10" height="6" fill="#687078"/>
<text transform="translate(565.5,647) scale(0.8889,1)" font-size="9" font-weight="bold" fill="#000" style="white-space:pre"><tspan x="0.00">16</tspan></text>
<rect x="576" y="650" width="10" height="6" fill="#E080F0"/>
<text transform="translate(576.5,647) scale(0.8889,1)" font-size="9" font-weight="bold" fill="#000" style="white-space:pre"><tspan x="0.00">17</tspan></text>
<rect x="587" y="650" width="10" height="6" fill="#8020F0"/>
<text transform="translate(587.5,647) scale(0.8889,1)" font-size="9" font-weight="bold" fill="#000" style="white-space:pre"><tspan x="0.00">18</tspan></text>
<rect x="598" y="650" width="10" height="6" fill="#806030"/>
<text transform="translate(598.5,647) scale(0.8889,1)" font-size="9" font-weight="bold" fill="#000" style="white-space:pre"><tspan x="0.00">19</tspan></text>
<rect x="609" y="650" width="10" height="6" fill="#300870"/>
<text transform="translate(609.5,647) scale(0.8889,1)" font-size="9" font-weight="bold" fill="#000" style="white-space:pre"><tspan x="0.00">2</tspan><tspan x="5.60" font-family="'Liberation Sans', sans-serif">0</tspan></text>
<rect x="620" y="650" width="10" height="6" fill="#F0D010"/>
<text transform="translate(620.5,647) scale(0.8889,1)" font-size="9" font-weight="bold" fill="#000" style="white-space:pre"><tspan x="0.00">21</tspan></text>
<rect x="631" y="650" width="10" height="6" fill="#2868A0"/>
<text transform="translate(631.5,647) scale(0.8889,1)" font-size="9" font-weight="bold" fill="#000" style="white-space:pre"><tspan x="0.00">22</tspan></text>
<rect x="642" y="650" width="10" height="6" fill="#905820"/>
<text transform="translate(642.5,647) scale(0.8889,1)" font-size="9" font-weight="bold" fill="#000" style="white-space:pre"><tspan x="0.00">23</tspan></text>
<rect x="653" y="650" width="10" height="6" fill="#9888E8"/>
<text transform="translate(653.5,647) scale(0.8889,1)" font-size="9" font-weight="bold" fill="#000" style="white-space:pre"><tspan x="0.00">24</tspan></text>
<rect x="664" y="650" width="10" height="6" fill="#98F040"/>
<text transform="translate(664.5,647) scale(0.8889,1)" font-size="9" font-weight="bold" fill="#000" style="white-space:pre"><tspan x="0.00">25</tspan></text>
<rect x="675" y="650" width="10" height="6" fill="#D078D0"/>
<text transform="translate(675.5,647) scale(0.8889,1)" font-size="9" font-weight="bold" fill="#000" style="white-space:pre"><tspan x="0.00">26</tspan></text>
<rect x="686" y="650" width="10" height="6" fill="#2008A0"/>
<text transform="translate(686.5,647) scale(0.8889,1)" font-size="9" font-weight="bold" fill="#000" style="white-space:pre"><tspan x="0.00">27</tspan></text>
<rect x="697" y="650" width="10" height="6" fill="#E0C8A0"/>
<text transform="translate(697.5,647) scale(0.8889,1)" font-size="9" font-weight="bold" fill="#000" style="white-space:pre"><tspan x="0.00">28</tspan></text>
<rect x="708" y="650" width="10" height="6" fill="#880810"/>
<text transform="translate(708.5,647) scale(0.8889,1)" font-size="9" font-weight="bold" fill="#000" style="white-space:pre"><tspan x="0.00">29</tspan></text>
<rect x="719" y="650" width="10" height="6" fill="#0838B8"/>
<text transform="translate(719.5,647) scale(0.8889,1)" font-size="9" font-weight="bold" fill="#000" style="white-space:pre"><tspan x="0.00">3</tspan><tspan x="5.60" font-family="'Liberation Sans', sans-serif">0</tspan></text>
<rect x="20.5" y="668.5" width="420" height="31" fill="#fff" stroke="#000" stroke-width="1" shape-rendering="crispEdges"/>
<text transform="translate(30,681) scale(0.9333,1)" font-size="12.5" font-weight="bold" fill="#000" style="white-space:pre"><tspan x="0.00">Diagramme des ensembles GEFS sur 384h : 39.7N </tspan><tspan x="345.27" font-family="'Liberation Sans', sans-serif">0</tspan><tspan x="352.50">.2W</tspan></text>
<text transform="translate(30,695.5) scale(0.8333,1)" font-size="12" fill="#000" style="white-space:pre"><tspan x="0.00">Vitesse (km/h) et direction (°) du vent moyen 1</tspan><tspan x="338.66" font-family="'Liberation Sans', sans-serif">0</tspan><tspan x="345.60">m</tspan></text>
<text transform="translate(449,676) scale(0.8333,1)" font-size="12" fill="#000" style="white-space:pre"><tspan x="0.00">Ensemble GEFS du 21/</tspan><tspan x="144.26" font-family="'Liberation Sans', sans-serif">0</tspan><tspan x="151.20">4/2</tspan><tspan x="173.06" font-family="'Liberation Sans', sans-serif">0</tspan><tspan x="180.00">26 - </tspan><tspan x="216.26" font-family="'Liberation Sans', sans-serif">0</tspan><tspan x="223.20">6Z</tspan></text>
<text transform="translate(449,696.5) scale(0.9333,1)" font-size="12.5" font-weight="bold" fill="#000" style="white-space:pre"><tspan x="0.00">Copyright 2</tspan><tspan x="82.78" font-family="'Liberation Sans', sans-serif">0</tspan><tspan x="90.00">26 Meteociel.fr</tspan></text>
</svg>
</body></html>
